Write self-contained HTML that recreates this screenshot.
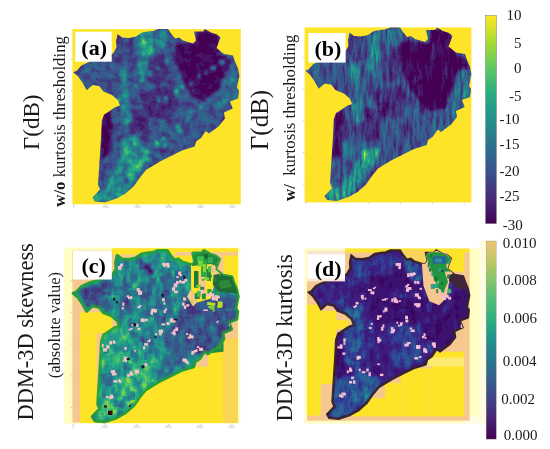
<!DOCTYPE html>
<html><head><meta charset="utf-8"><title>Figure</title>
<style>html,body{margin:0;padding:0;background:#fff}svg{display:block}</style></head>
<body>
<svg width="550" height="449" viewBox="0 0 550 449" font-family="'Liberation Serif', serif" fill="#1a1a1a">
<defs>
<polygon id="shape" points="305.3,70.7 308.7,69.3 313.4,64.0 322.0,60.0 336.0,56.0 345.0,52.0 348.5,46.0 348.0,40.0 349.6,32.4 354.0,36.0 361.0,36.5 368.0,35.0 374.0,31.0 380.0,30.0 385.0,29.5 390.0,27.4 400.0,27.4 403.0,32.0 407.0,37.0 411.0,36.0 415.0,39.0 425.0,42.0 428.0,39.0 426.0,30.0 435.0,30.0 437.0,27.4 443.0,31.0 449.0,33.0 452.5,36.0 448.5,46.5 456.0,52.5 465.0,54.0 467.0,60.0 470.0,67.0 471.4,74.0 469.0,86.0 471.0,89.0 470.0,97.0 462.0,100.0 464.7,107.0 456.0,111.0 457.0,117.0 451.0,124.5 441.0,132.0 437.7,129.4 432.8,136.8 428.0,140.0 426.7,145.0 414.0,149.0 402.0,155.0 392.0,160.0 378.0,168.6 372.0,176.0 366.0,184.5 357.6,192.0 349.0,196.8 336.8,201.0 327.0,200.0 324.5,196.0 332.0,188.0 330.0,183.0 331.4,161.0 333.0,136.8 333.8,119.6 336.0,113.0 338.7,111.4 346.7,106.0 352.0,104.0 350.0,98.7 344.0,93.4 335.4,90.0 331.4,84.7 324.7,83.4 318.7,88.7 314.7,81.4 310.0,74.7"/>
<clipPath id="cs"><use href="#shape"/></clipPath>
<filter id="fa" x="0" y="0" width="100%" height="100%" filterUnits="objectBoundingBox" color-interpolation-filters="sRGB">
<feGaussianBlur in="SourceGraphic" stdDeviation="0.35" result="b"/>
<feTurbulence type="fractalNoise" baseFrequency="0.13 0.13" numOctaves="3" seed="3" result="t"/>
<feColorMatrix in="t" type="matrix" values="1 0 0 0 0  1 0 0 0 0  1 0 0 0 0  0 0 0 0 1" result="n"/>
<feComposite in="b" in2="n" operator="arithmetic" k1="0.960" k2="0.520" k3="0.108" k4="-0.054" result="f"/>
<feComponentTransfer in="f" result="f2"><feFuncR type="discrete" tableValues="0 .06 .12 .18 .25 .31 .37 .43 .5 .56 .62 .68 .75 .81 .87 .93 1"/><feFuncG type="discrete" tableValues="0 .06 .12 .18 .25 .31 .37 .43 .5 .56 .62 .68 .75 .81 .87 .93 1"/><feFuncB type="discrete" tableValues="0 .06 .12 .18 .25 .31 .37 .43 .5 .56 .62 .68 .75 .81 .87 .93 1"/></feComponentTransfer>
<feComponentTransfer><feFuncR type="table" tableValues="0.267 0.278 0.231 0.173 0.129 0.153 0.369 0.667 0.992"/><feFuncG type="table" tableValues="0.004 0.173 0.322 0.443 0.569 0.678 0.788 0.863 0.906"/><feFuncB type="table" tableValues="0.329 0.478 0.545 0.557 0.549 0.506 0.384 0.196 0.145"/></feComponentTransfer>
</filter>
<filter id="fb" x="0" y="0" width="100%" height="100%" filterUnits="objectBoundingBox" color-interpolation-filters="sRGB">
<feGaussianBlur in="SourceGraphic" stdDeviation="0.35" result="b"/>
<feTurbulence type="fractalNoise" baseFrequency="0.30 0.05" numOctaves="3" seed="11" result="t"/>
<feColorMatrix in="t" type="matrix" values="1 0 0 0 0  1 0 0 0 0  1 0 0 0 0  0 0 0 0 1" result="n"/>
<feComposite in="b" in2="n" operator="arithmetic" k1="1.344" k2="0.328" k3="0.151" k4="-0.076" result="f"/>
<feComponentTransfer in="f" result="f2"><feFuncR type="discrete" tableValues="0 .06 .12 .18 .25 .31 .37 .43 .5 .56 .62 .68 .75 .81 .87 .93 1"/><feFuncG type="discrete" tableValues="0 .06 .12 .18 .25 .31 .37 .43 .5 .56 .62 .68 .75 .81 .87 .93 1"/><feFuncB type="discrete" tableValues="0 .06 .12 .18 .25 .31 .37 .43 .5 .56 .62 .68 .75 .81 .87 .93 1"/></feComponentTransfer>
<feComponentTransfer><feFuncR type="table" tableValues="0.267 0.278 0.231 0.173 0.129 0.153 0.369 0.667 0.992"/><feFuncG type="table" tableValues="0.004 0.173 0.322 0.443 0.569 0.678 0.788 0.863 0.906"/><feFuncB type="table" tableValues="0.329 0.478 0.545 0.557 0.549 0.506 0.384 0.196 0.145"/></feComponentTransfer>
</filter>
<filter id="fc" x="0" y="0" width="100%" height="100%" filterUnits="objectBoundingBox" color-interpolation-filters="sRGB">
<feGaussianBlur in="SourceGraphic" stdDeviation="0.35" result="b"/>
<feTurbulence type="fractalNoise" baseFrequency="0.16 0.09" numOctaves="3" seed="5" result="t"/>
<feColorMatrix in="t" type="matrix" values="1 0 0 0 0  1 0 0 0 0  1 0 0 0 0  0 0 0 0 1" result="n"/>
<feComposite in="b" in2="n" operator="arithmetic" k1="0.832" k2="0.584" k3="0.094" k4="-0.047" result="f"/>
<feComponentTransfer in="f" result="f2"><feFuncR type="discrete" tableValues="0 .06 .12 .18 .25 .31 .37 .43 .5 .56 .62 .68 .75 .81 .87 .93 1"/><feFuncG type="discrete" tableValues="0 .06 .12 .18 .25 .31 .37 .43 .5 .56 .62 .68 .75 .81 .87 .93 1"/><feFuncB type="discrete" tableValues="0 .06 .12 .18 .25 .31 .37 .43 .5 .56 .62 .68 .75 .81 .87 .93 1"/></feComponentTransfer>
<feComponentTransfer><feFuncR type="table" tableValues="0.267 0.278 0.231 0.173 0.129 0.153 0.369 0.667 0.992"/><feFuncG type="table" tableValues="0.004 0.173 0.322 0.443 0.569 0.678 0.788 0.863 0.906"/><feFuncB type="table" tableValues="0.329 0.478 0.545 0.557 0.549 0.506 0.384 0.196 0.145"/></feComponentTransfer>
</filter>
<filter id="fd" x="0" y="0" width="100%" height="100%" filterUnits="objectBoundingBox" color-interpolation-filters="sRGB">
<feGaussianBlur in="SourceGraphic" stdDeviation="0.35" result="b"/>
<feTurbulence type="fractalNoise" baseFrequency="0.16 0.09" numOctaves="3" seed="9" result="t"/>
<feColorMatrix in="t" type="matrix" values="1 0 0 0 0  1 0 0 0 0  1 0 0 0 0  0 0 0 0 1" result="n"/>
<feComposite in="b" in2="n" operator="arithmetic" k1="0.896" k2="0.552" k3="0.101" k4="-0.050" result="f"/>
<feComponentTransfer in="f" result="f2"><feFuncR type="discrete" tableValues="0 .06 .12 .18 .25 .31 .37 .43 .5 .56 .62 .68 .75 .81 .87 .93 1"/><feFuncG type="discrete" tableValues="0 .06 .12 .18 .25 .31 .37 .43 .5 .56 .62 .68 .75 .81 .87 .93 1"/><feFuncB type="discrete" tableValues="0 .06 .12 .18 .25 .31 .37 .43 .5 .56 .62 .68 .75 .81 .87 .93 1"/></feComponentTransfer>
<feComponentTransfer><feFuncR type="table" tableValues="0.227 0.243 0.188 0.157 0.129 0.153 0.369 0.667 0.992"/><feFuncG type="table" tableValues="0.031 0.118 0.259 0.408 0.569 0.678 0.788 0.863 0.906"/><feFuncB type="table" tableValues="0.384 0.502 0.588 0.588 0.549 0.506 0.384 0.196 0.145"/></feComponentTransfer>
</filter>
<linearGradient id="g1" x1="0" y1="1" x2="0" y2="0"><stop offset="0.0" stop-color="#440154"/><stop offset="0.125" stop-color="#472c7a"/><stop offset="0.25" stop-color="#3b528b"/><stop offset="0.375" stop-color="#2c718e"/><stop offset="0.5" stop-color="#21918c"/><stop offset="0.625" stop-color="#27ad81"/><stop offset="0.75" stop-color="#5ec962"/><stop offset="0.875" stop-color="#aadc32"/><stop offset="1.0" stop-color="#fde725"/></linearGradient>
<linearGradient id="g2" x1="0" y1="1" x2="0" y2="0"><stop offset="0.0" stop-color="#440154"/><stop offset="0.125" stop-color="#472c7a"/><stop offset="0.25" stop-color="#3b528b"/><stop offset="0.375" stop-color="#2c718e"/><stop offset="0.5" stop-color="#21918c"/><stop offset="0.6" stop-color="#2fae80"/><stop offset="0.7" stop-color="#52bc78"/><stop offset="0.8" stop-color="#84c46c"/><stop offset="0.88" stop-color="#b4c862"/><stop offset="0.95" stop-color="#d9c66c"/><stop offset="1" stop-color="#ecc478"/></linearGradient>
<filter id="bl" x="0" y="0" width="100%" height="100%" color-interpolation-filters="sRGB"><feGaussianBlur stdDeviation="1.8"/></filter>
</defs>
<rect width="550" height="449" fill="#fff"/>
<rect x="72.4" y="29.1" width="168.4" height="175.2" fill="#fde428"/>
<g transform="translate(-232,1.5)"><g clip-path="url(#cs)"><g filter="url(#fa)"><g filter="url(#bl)"><rect x="295" y="15" width="190" height="200" fill="#464646"/>
<polygon points="408,42.5 427.7,39.5 429,31.5 444,30 453,52 463,58.5 460,73 450,89 437,100 424.5,97 415,78 406,58.5" fill="#0d0d0d"/>
<polygon points="430,28 450,32 452,50 430,50" fill="#080808"/>
<polygon points="372,92 398,84 412,100 400,118 380,116" fill="#262626"/>
<polygon points="380,60 396,50 402,70 394,84 382,80" fill="#2b2b2b"/>
<polygon points="333,114 343,108 345,125 342,152 333,160" fill="#0a0a0a"/>
<polygon points="360,108 382,108 380,140 364,142" fill="#262626"/>
<polygon points="368,34 378,32 380,60 376,78 370,70" fill="#787878"/>
<polygon points="352,66 358,66 360,100 354,100" fill="#737373"/>
<polygon points="384,30 398,28 400,44 388,50" fill="#666666"/>
<polygon points="458,70 471,70 470,98 460,100 452,110 448,100" fill="#595959"/>
<polygon points="349,34 366,36 368,58 352,62 347,48" fill="#363636"/>
<polygon points="356,137 370.4,130.8 378.4,150 370.4,172 356,194.5 337,197.5 340,181.5 349.7,165.5" fill="#808080"/>
<polygon points="358,160 372,149 380,156 372,168 360,176" fill="#919191"/>
<polygon points="325,190 345,186 350,198 328,202" fill="#787878"/>
<polygon points="352,104 360,100 364,120 356,124" fill="#757575"/>
<polygon points="392,128 420,120 440,128 420,146 396,156" fill="#424242"/>
<polygon points="305,66 330,60 346,70 340,88 320,84" fill="#454545"/>
<circle cx="454.3" cy="60.6" r="2.3" fill="#9e9e9e"/>
<circle cx="445.4" cy="66.9" r="2.0" fill="#9e9e9e"/>
<circle cx="437.5" cy="71.5" r="1.6" fill="#9e9e9e"/>
<circle cx="431.1" cy="74.5" r="1.7" fill="#9e9e9e"/>
<circle cx="423.2" cy="82.3" r="1.7" fill="#9e9e9e"/>
<circle cx="414.5" cy="86.3" r="2.5" fill="#9e9e9e"/>
<circle cx="408.1" cy="90.1" r="2.6" fill="#9e9e9e"/>
<circle cx="398.1" cy="96.7" r="1.9" fill="#9e9e9e"/>
<circle cx="390.6" cy="98.5" r="1.9" fill="#9e9e9e"/>
<circle cx="441.3" cy="98.7" r="2.2" fill="#9e9e9e"/>
<circle cx="433.1" cy="105.7" r="2.1" fill="#9e9e9e"/>
<circle cx="423.3" cy="110.7" r="1.8" fill="#9e9e9e"/>
<circle cx="418.2" cy="118.5" r="1.9" fill="#9e9e9e"/>
<circle cx="410.3" cy="124.8" r="1.9" fill="#9e9e9e"/>
<circle cx="403.7" cy="132.0" r="1.8" fill="#9e9e9e"/>
<circle cx="395.3" cy="137.6" r="2.5" fill="#9e9e9e"/>
<circle cx="388.4" cy="142.9" r="2.6" fill="#9e9e9e"/>
<circle cx="378.5" cy="149.7" r="2.4" fill="#9e9e9e"/>
<circle cx="418.6" cy="120.0" r="1.6" fill="#9e9e9e"/>
<circle cx="412.7" cy="129.1" r="2.2" fill="#9e9e9e"/>
<circle cx="405.5" cy="135.3" r="2.3" fill="#9e9e9e"/>
<circle cx="396.4" cy="144.3" r="2.1" fill="#9e9e9e"/>
<circle cx="389.4" cy="153.8" r="2.1" fill="#9e9e9e"/>
<circle cx="380.7" cy="158.2" r="2.3" fill="#9e9e9e"/>
<circle cx="372.6" cy="170.0" r="2.4" fill="#9e9e9e"/>
<circle cx="399.1" cy="59.5" r="2.3" fill="#9e9e9e"/>
<circle cx="389.8" cy="66.5" r="1.8" fill="#9e9e9e"/>
<circle cx="381.8" cy="71.6" r="2.4" fill="#9e9e9e"/>
<circle cx="373.5" cy="79.0" r="2.0" fill="#9e9e9e"/>
<circle cx="368.2" cy="85.0" r="2.0" fill="#9e9e9e"/>
<circle cx="358.5" cy="94.9" r="2.4" fill="#9e9e9e"/>
<circle cx="351.5" cy="99.1" r="2.0" fill="#9e9e9e"/>
<polygon points="372,30 384,30 386,52 376,56" fill="#9e9e9e"/></g><rect x="428.3" y="69.0" width="6.0" height="5.7" fill="#000" fill-opacity="0.14"/><rect x="439.3" y="100.9" width="7.6" height="3.0" fill="#fff" fill-opacity="0.06"/><rect x="339.3" y="189.0" width="8.4" height="3.2" fill="#fff" fill-opacity="0.05"/><rect x="457.9" y="90.8" width="4.3" height="5.5" fill="#fff" fill-opacity="0.03"/><rect x="375.6" y="111.1" width="4.4" height="4.4" fill="#fff" fill-opacity="0.04"/><rect x="439.9" y="121.7" width="6.9" height="4.1" fill="#000" fill-opacity="0.14"/><rect x="455.6" y="97.1" width="8.0" height="7.0" fill="#fff" fill-opacity="0.05"/><rect x="387.3" y="127.1" width="3.2" height="4.5" fill="#000" fill-opacity="0.10"/><rect x="330.8" y="118.9" width="7.2" height="7.0" fill="#fff" fill-opacity="0.04"/><rect x="388.5" y="94.1" width="5.9" height="3.2" fill="#fff" fill-opacity="0.06"/><rect x="367.5" y="52.9" width="6.0" height="8.9" fill="#000" fill-opacity="0.11"/><rect x="444.0" y="63.6" width="6.1" height="8.7" fill="#000" fill-opacity="0.10"/><rect x="345.8" y="120.7" width="8.7" height="3.0" fill="#000" fill-opacity="0.14"/><rect x="435.5" y="114.4" width="6.4" height="5.6" fill="#fff" fill-opacity="0.06"/><rect x="396.5" y="59.4" width="6.0" height="5.9" fill="#fff" fill-opacity="0.04"/><rect x="391.0" y="132.4" width="6.7" height="5.7" fill="#fff" fill-opacity="0.03"/><rect x="331.0" y="124.6" width="8.2" height="7.8" fill="#000" fill-opacity="0.14"/><rect x="344.3" y="171.0" width="7.0" height="3.5" fill="#fff" fill-opacity="0.02"/><rect x="428.1" y="67.5" width="3.7" height="6.7" fill="#fff" fill-opacity="0.02"/><rect x="329.9" y="72.1" width="7.3" height="5.7" fill="#fff" fill-opacity="0.04"/><rect x="373.2" y="56.1" width="3.7" height="8.4" fill="#000" fill-opacity="0.07"/><rect x="328.7" y="146.1" width="7.1" height="6.3" fill="#fff" fill-opacity="0.07"/><rect x="434.7" y="113.4" width="4.3" height="6.9" fill="#fff" fill-opacity="0.05"/><rect x="357.0" y="134.1" width="3.4" height="4.8" fill="#000" fill-opacity="0.15"/><rect x="353.8" y="171.3" width="4.9" height="8.6" fill="#000" fill-opacity="0.10"/><rect x="446.2" y="30.1" width="7.9" height="8.8" fill="#000" fill-opacity="0.07"/><rect x="418.8" y="113.0" width="5.3" height="5.1" fill="#fff" fill-opacity="0.05"/><rect x="375.2" y="57.9" width="3.6" height="7.0" fill="#fff" fill-opacity="0.04"/><rect x="355.2" y="176.4" width="8.4" height="3.1" fill="#fff" fill-opacity="0.04"/><rect x="358.1" y="60.6" width="7.0" height="8.0" fill="#000" fill-opacity="0.09"/><rect x="342.7" y="150.8" width="3.5" height="4.0" fill="#000" fill-opacity="0.07"/><rect x="426.5" y="128.6" width="8.0" height="5.2" fill="#fff" fill-opacity="0.03"/><rect x="358.1" y="131.2" width="7.7" height="5.3" fill="#000" fill-opacity="0.07"/><rect x="315.2" y="70.7" width="8.3" height="6.4" fill="#000" fill-opacity="0.10"/><rect x="347.5" y="161.8" width="8.0" height="3.1" fill="#000" fill-opacity="0.06"/><rect x="308.1" y="66.5" width="8.9" height="5.5" fill="#fff" fill-opacity="0.03"/><rect x="343.8" y="151.7" width="3.6" height="8.5" fill="#fff" fill-opacity="0.07"/><rect x="452.9" y="75.6" width="4.5" height="5.9" fill="#fff" fill-opacity="0.05"/><rect x="463.9" y="76.0" width="6.6" height="5.7" fill="#fff" fill-opacity="0.02"/><rect x="336.9" y="131.1" width="8.9" height="6.3" fill="#000" fill-opacity="0.12"/><rect x="346.1" y="118.9" width="4.8" height="4.5" fill="#fff" fill-opacity="0.03"/><rect x="408.6" y="136.0" width="8.6" height="5.3" fill="#fff" fill-opacity="0.04"/><rect x="353.8" y="171.3" width="8.4" height="4.8" fill="#fff" fill-opacity="0.05"/><rect x="398.7" y="128.9" width="4.5" height="3.1" fill="#fff" fill-opacity="0.02"/><rect x="394.7" y="36.8" width="3.5" height="6.8" fill="#fff" fill-opacity="0.06"/><rect x="432.0" y="39.2" width="8.7" height="4.0" fill="#000" fill-opacity="0.16"/><rect x="438.9" y="80.0" width="3.6" height="6.1" fill="#000" fill-opacity="0.08"/><rect x="448.3" y="50.8" width="8.5" height="3.2" fill="#fff" fill-opacity="0.07"/><rect x="416.3" y="56.7" width="5.6" height="3.9" fill="#000" fill-opacity="0.12"/><rect x="392.0" y="118.3" width="8.1" height="5.7" fill="#fff" fill-opacity="0.04"/><rect x="408.8" y="98.0" width="6.4" height="3.4" fill="#fff" fill-opacity="0.03"/><rect x="322.5" y="69.9" width="8.0" height="5.4" fill="#fff" fill-opacity="0.05"/><rect x="389.3" y="111.3" width="6.9" height="5.6" fill="#000" fill-opacity="0.13"/><rect x="342.2" y="111.0" width="5.9" height="4.4" fill="#fff" fill-opacity="0.05"/><rect x="349.5" y="137.5" width="3.3" height="3.4" fill="#000" fill-opacity="0.15"/><rect x="328.0" y="157.3" width="8.3" height="4.9" fill="#000" fill-opacity="0.14"/><rect x="363.2" y="145.3" width="7.4" height="6.6" fill="#000" fill-opacity="0.15"/><rect x="332.8" y="67.9" width="4.3" height="6.4" fill="#000" fill-opacity="0.06"/><rect x="361.1" y="112.9" width="4.0" height="7.4" fill="#fff" fill-opacity="0.07"/><rect x="345.5" y="183.1" width="8.8" height="3.8" fill="#000" fill-opacity="0.14"/><rect x="411.4" y="144.2" width="5.7" height="8.5" fill="#000" fill-opacity="0.09"/><rect x="435.7" y="100.0" width="4.0" height="5.0" fill="#fff" fill-opacity="0.07"/><rect x="402.7" y="95.8" width="3.7" height="4.8" fill="#fff" fill-opacity="0.06"/><rect x="374.6" y="28.3" width="6.8" height="6.6" fill="#000" fill-opacity="0.07"/><rect x="350.4" y="118.0" width="4.6" height="6.5" fill="#fff" fill-opacity="0.05"/><rect x="429.5" y="123.8" width="5.3" height="4.7" fill="#fff" fill-opacity="0.06"/><rect x="396.9" y="79.0" width="6.0" height="5.1" fill="#000" fill-opacity="0.05"/><rect x="376.1" y="102.6" width="4.8" height="5.4" fill="#000" fill-opacity="0.13"/><rect x="384.1" y="137.3" width="5.3" height="4.2" fill="#fff" fill-opacity="0.03"/><rect x="437.6" y="113.0" width="8.9" height="5.8" fill="#000" fill-opacity="0.09"/><rect x="352.7" y="54.2" width="6.7" height="6.2" fill="#fff" fill-opacity="0.02"/><rect x="367.1" y="97.2" width="5.4" height="8.2" fill="#000" fill-opacity="0.13"/><rect x="383.4" y="152.8" width="6.8" height="6.9" fill="#000" fill-opacity="0.09"/><rect x="404.9" y="133.2" width="8.6" height="7.7" fill="#000" fill-opacity="0.13"/><rect x="359.7" y="69.4" width="7.2" height="8.2" fill="#000" fill-opacity="0.07"/><rect x="439.7" y="109.7" width="5.8" height="3.3" fill="#000" fill-opacity="0.13"/><rect x="371.8" y="87.5" width="6.9" height="3.1" fill="#000" fill-opacity="0.15"/><rect x="415.7" y="93.8" width="7.1" height="6.6" fill="#fff" fill-opacity="0.03"/><rect x="449.6" y="70.3" width="3.4" height="8.0" fill="#000" fill-opacity="0.09"/><rect x="387.9" y="151.3" width="4.0" height="6.9" fill="#000" fill-opacity="0.14"/><rect x="348.0" y="129.7" width="4.4" height="6.4" fill="#fff" fill-opacity="0.06"/><rect x="446.0" y="80.3" width="4.3" height="8.8" fill="#000" fill-opacity="0.14"/><rect x="405.3" y="78.7" width="5.6" height="7.6" fill="#000" fill-opacity="0.07"/><rect x="404.2" y="53.7" width="8.8" height="5.7" fill="#000" fill-opacity="0.13"/><rect x="402.3" y="71.1" width="6.2" height="3.8" fill="#fff" fill-opacity="0.06"/><rect x="363.0" y="153.6" width="4.4" height="7.3" fill="#000" fill-opacity="0.08"/><rect x="384.7" y="43.5" width="4.1" height="3.3" fill="#000" fill-opacity="0.15"/><rect x="360.3" y="168.5" width="3.7" height="7.2" fill="#fff" fill-opacity="0.04"/><rect x="385.2" y="90.8" width="4.0" height="4.4" fill="#000" fill-opacity="0.10"/><rect x="397.5" y="62.0" width="7.3" height="5.0" fill="#000" fill-opacity="0.15"/><rect x="355.2" y="89.6" width="6.5" height="8.5" fill="#fff" fill-opacity="0.06"/><rect x="426.2" y="52.6" width="8.5" height="3.1" fill="#fff" fill-opacity="0.05"/><rect x="441.5" y="33.5" width="4.6" height="3.7" fill="#fff" fill-opacity="0.02"/><rect x="411.3" y="90.6" width="6.8" height="8.8" fill="#000" fill-opacity="0.08"/><rect x="399.5" y="85.0" width="6.6" height="6.4" fill="#000" fill-opacity="0.06"/><rect x="361.8" y="94.8" width="4.2" height="8.3" fill="#fff" fill-opacity="0.05"/><rect x="345.3" y="191.7" width="3.9" height="8.5" fill="#000" fill-opacity="0.14"/><rect x="436.7" y="104.2" width="5.2" height="8.9" fill="#fff" fill-opacity="0.05"/><rect x="376.0" y="46.4" width="5.4" height="7.2" fill="#000" fill-opacity="0.05"/><rect x="388.1" y="41.8" width="7.8" height="3.5" fill="#fff" fill-opacity="0.04"/><rect x="424.3" y="78.0" width="3.8" height="7.8" fill="#000" fill-opacity="0.14"/><rect x="353.6" y="97.9" width="4.5" height="6.3" fill="#fff" fill-opacity="0.04"/><rect x="398.3" y="43.2" width="6.9" height="5.7" fill="#000" fill-opacity="0.13"/><rect x="440.4" y="75.5" width="3.9" height="5.2" fill="#000" fill-opacity="0.06"/><rect x="361.0" y="122.9" width="3.3" height="7.9" fill="#000" fill-opacity="0.08"/><rect x="352.4" y="84.9" width="5.0" height="7.5" fill="#000" fill-opacity="0.11"/><rect x="357.7" y="79.9" width="3.4" height="8.9" fill="#fff" fill-opacity="0.07"/><rect x="424.1" y="86.8" width="8.7" height="6.9" fill="#fff" fill-opacity="0.04"/><rect x="414.5" y="122.7" width="8.4" height="4.1" fill="#fff" fill-opacity="0.06"/><rect x="393.7" y="71.4" width="3.6" height="4.6" fill="#000" fill-opacity="0.11"/><rect x="332.9" y="173.6" width="3.1" height="5.2" fill="#000" fill-opacity="0.13"/><rect x="349.2" y="177.2" width="6.6" height="8.2" fill="#000" fill-opacity="0.10"/><rect x="412.5" y="117.8" width="8.7" height="7.8" fill="#000" fill-opacity="0.14"/><rect x="467.6" y="68.4" width="4.2" height="7.5" fill="#000" fill-opacity="0.11"/><rect x="381.7" y="93.6" width="8.3" height="7.8" fill="#000" fill-opacity="0.05"/><rect x="443.5" y="104.5" width="4.1" height="4.8" fill="#000" fill-opacity="0.05"/><rect x="321.5" y="76.3" width="8.3" height="7.5" fill="#000" fill-opacity="0.11"/><rect x="396.7" y="119.7" width="6.2" height="6.3" fill="#000" fill-opacity="0.15"/><rect x="370.5" y="133.9" width="4.8" height="4.8" fill="#000" fill-opacity="0.11"/><rect x="396.1" y="87.0" width="5.4" height="8.6" fill="#000" fill-opacity="0.12"/><rect x="441.9" y="90.1" width="5.8" height="7.8" fill="#fff" fill-opacity="0.06"/><rect x="382.1" y="84.0" width="5.7" height="3.7" fill="#fff" fill-opacity="0.04"/><rect x="345.4" y="173.2" width="6.5" height="4.7" fill="#000" fill-opacity="0.08"/><rect x="386.7" y="152.4" width="7.1" height="5.6" fill="#000" fill-opacity="0.10"/><rect x="418.9" y="108.9" width="8.8" height="7.3" fill="#fff" fill-opacity="0.03"/><rect x="462.9" y="65.2" width="3.2" height="4.5" fill="#fff" fill-opacity="0.07"/><rect x="367.5" y="150.7" width="8.0" height="3.5" fill="#000" fill-opacity="0.16"/><rect x="393.6" y="115.6" width="5.1" height="8.7" fill="#000" fill-opacity="0.06"/><rect x="393.1" y="98.3" width="7.0" height="3.7" fill="#fff" fill-opacity="0.03"/><rect x="380.6" y="160.6" width="8.1" height="7.7" fill="#000" fill-opacity="0.06"/><rect x="367.5" y="140.0" width="4.8" height="6.0" fill="#000" fill-opacity="0.06"/><rect x="443.4" y="42.0" width="5.3" height="8.4" fill="#fff" fill-opacity="0.05"/><rect x="465.7" y="73.5" width="6.0" height="8.4" fill="#000" fill-opacity="0.07"/><rect x="427.6" y="84.5" width="5.9" height="3.1" fill="#000" fill-opacity="0.12"/><rect x="347.1" y="117.2" width="5.6" height="7.6" fill="#000" fill-opacity="0.08"/><rect x="348.3" y="147.6" width="5.5" height="3.8" fill="#fff" fill-opacity="0.05"/><rect x="391.4" y="130.0" width="3.9" height="5.5" fill="#fff" fill-opacity="0.05"/><rect x="347.2" y="62.0" width="5.2" height="5.8" fill="#fff" fill-opacity="0.05"/><rect x="332.1" y="176.2" width="7.2" height="6.2" fill="#fff" fill-opacity="0.04"/><rect x="415.2" y="134.8" width="7.9" height="8.3" fill="#fff" fill-opacity="0.04"/><rect x="358.2" y="47.7" width="3.8" height="4.5" fill="#fff" fill-opacity="0.05"/><rect x="417.7" y="122.7" width="7.1" height="4.4" fill="#fff" fill-opacity="0.05"/><rect x="449.5" y="99.1" width="3.0" height="3.1" fill="#fff" fill-opacity="0.05"/><rect x="316.3" y="62.2" width="7.1" height="8.9" fill="#fff" fill-opacity="0.05"/><rect x="388.5" y="30.1" width="5.0" height="3.8" fill="#fff" fill-opacity="0.06"/><rect x="320.6" y="80.9" width="4.6" height="3.3" fill="#fff" fill-opacity="0.03"/><rect x="407.2" y="67.3" width="7.1" height="4.6" fill="#000" fill-opacity="0.09"/><rect x="457.7" y="85.2" width="7.8" height="6.8" fill="#000" fill-opacity="0.12"/><rect x="445.2" y="94.3" width="7.1" height="6.7" fill="#000" fill-opacity="0.11"/><rect x="389.7" y="92.3" width="8.4" height="6.8" fill="#000" fill-opacity="0.06"/><rect x="387.3" y="55.3" width="4.3" height="5.6" fill="#000" fill-opacity="0.08"/><rect x="347.5" y="116.5" width="5.8" height="5.4" fill="#fff" fill-opacity="0.04"/><rect x="410.2" y="117.6" width="6.3" height="8.1" fill="#000" fill-opacity="0.13"/><rect x="413.7" y="52.9" width="8.5" height="3.9" fill="#000" fill-opacity="0.07"/><rect x="359.0" y="176.8" width="4.0" height="8.1" fill="#fff" fill-opacity="0.04"/><rect x="346.3" y="139.4" width="7.8" height="6.6" fill="#fff" fill-opacity="0.07"/><rect x="364.1" y="121.8" width="8.3" height="5.8" fill="#000" fill-opacity="0.12"/><rect x="371.3" y="129.3" width="3.3" height="5.8" fill="#fff" fill-opacity="0.06"/><rect x="387.0" y="84.8" width="4.6" height="8.9" fill="#000" fill-opacity="0.12"/><rect x="344.0" y="163.8" width="4.4" height="6.4" fill="#fff" fill-opacity="0.03"/><rect x="354.9" y="175.8" width="5.1" height="6.9" fill="#000" fill-opacity="0.13"/><rect x="363.8" y="75.7" width="7.9" height="5.6" fill="#000" fill-opacity="0.12"/><rect x="387.6" y="33.5" width="7.0" height="8.3" fill="#fff" fill-opacity="0.05"/><rect x="382.3" y="82.2" width="7.3" height="8.9" fill="#fff" fill-opacity="0.06"/><rect x="366.8" y="167.8" width="4.0" height="7.3" fill="#fff" fill-opacity="0.04"/><rect x="431.7" y="104.4" width="5.8" height="6.0" fill="#000" fill-opacity="0.13"/><rect x="390.6" y="122.3" width="8.6" height="8.0" fill="#fff" fill-opacity="0.04"/><rect x="434.9" y="73.2" width="3.9" height="8.8" fill="#000" fill-opacity="0.15"/><rect x="358.3" y="64.8" width="7.7" height="8.6" fill="#000" fill-opacity="0.07"/><rect x="399.2" y="112.4" width="5.6" height="7.8" fill="#000" fill-opacity="0.13"/></g></g></g>
<rect x="75.2" y="31.7" width="36.5" height="30" fill="#fff"/>
<text x="94.2" y="54.7" text-anchor="middle" font-size="22" font-weight="bold" fill="#000">(a)</text>
<rect x="304.6" y="27.4" width="166.8" height="175" fill="#fde428"/>
<g transform="translate(0,0)"><g clip-path="url(#cs)"><g filter="url(#fb)"><g filter="url(#bl)"><rect x="295" y="15" width="190" height="200" fill="#464646"/>
<polygon points="398,42 412,40 428,44 450,36 456,54 468,60 468,80 455,92 446,108 430,112 418,100 408,86 400,66" fill="#080808"/>
<polygon points="430,28 450,32 452,50 430,50" fill="#080808"/>
<polygon points="372,92 398,84 412,100 400,118 380,116" fill="#262626"/>
<polygon points="380,60 396,50 402,70 394,84 382,80" fill="#2b2b2b"/>
<polygon points="333,114 343,108 345,125 342,152 333,160" fill="#0a0a0a"/>
<polygon points="360,108 382,108 380,140 364,142" fill="#262626"/>
<polygon points="368,34 378,32 380,60 376,78 370,70" fill="#787878"/>
<polygon points="352,66 358,66 360,100 354,100" fill="#737373"/>
<polygon points="384,30 398,28 400,44 388,50" fill="#666666"/>
<polygon points="458,70 471,70 470,98 460,100 452,110 448,100" fill="#595959"/>
<polygon points="349,34 366,36 368,58 352,62 347,48" fill="#363636"/>
<polygon points="357.6,161.3 371,146.6 381,149 373.5,166 363.7,181 354,193 336.8,200.5 327,198 336.8,190.7 349,173.5" fill="#808080"/>
<polygon points="340,126 356,124 358,160 348,174 338,180" fill="#454545"/>
<polygon points="361,151 373,148 375,163 363,167" fill="#9c9c9c"/>
<polygon points="325,190 345,186 350,198 328,202" fill="#787878"/>
<polygon points="352,104 360,100 364,120 356,124" fill="#757575"/>
<polygon points="392,128 420,120 440,128 420,146 396,156" fill="#424242"/>
<polygon points="305,66 330,60 346,70 340,88 320,84" fill="#454545"/></g><rect x="413.9" y="73.6" width="3.8" height="14.9" fill="#000" fill-opacity="0.07"/><rect x="374.5" y="85.7" width="4.2" height="19.9" fill="#000" fill-opacity="0.11"/><rect x="377.9" y="70.5" width="2.1" height="7.4" fill="#fff" fill-opacity="0.04"/><rect x="390.9" y="120.8" width="2.7" height="7.3" fill="#fff" fill-opacity="0.03"/><rect x="414.3" y="50.6" width="4.7" height="17.4" fill="#000" fill-opacity="0.15"/><rect x="461.6" y="47.6" width="4.3" height="16.3" fill="#fff" fill-opacity="0.05"/><rect x="361.7" y="173.4" width="4.7" height="13.0" fill="#000" fill-opacity="0.15"/><rect x="423.4" y="106.1" width="2.7" height="11.2" fill="#000" fill-opacity="0.07"/><rect x="452.5" y="68.6" width="4.7" height="11.0" fill="#000" fill-opacity="0.13"/><rect x="386.7" y="109.7" width="4.0" height="14.6" fill="#fff" fill-opacity="0.03"/><rect x="406.0" y="32.7" width="4.5" height="16.4" fill="#000" fill-opacity="0.07"/><rect x="426.2" y="32.8" width="4.0" height="10.6" fill="#fff" fill-opacity="0.06"/><rect x="444.7" y="60.9" width="2.6" height="18.4" fill="#fff" fill-opacity="0.06"/><rect x="333.1" y="134.0" width="2.2" height="19.4" fill="#fff" fill-opacity="0.06"/><rect x="307.2" y="67.5" width="4.4" height="9.0" fill="#fff" fill-opacity="0.05"/><rect x="366.7" y="30.9" width="5.0" height="9.0" fill="#fff" fill-opacity="0.04"/><rect x="381.5" y="61.2" width="4.0" height="11.1" fill="#fff" fill-opacity="0.04"/><rect x="447.6" y="43.9" width="3.8" height="12.1" fill="#000" fill-opacity="0.07"/><rect x="461.5" y="66.3" width="3.8" height="12.5" fill="#fff" fill-opacity="0.05"/><rect x="345.2" y="121.0" width="3.9" height="17.4" fill="#000" fill-opacity="0.08"/><rect x="374.4" y="114.8" width="2.0" height="7.5" fill="#fff" fill-opacity="0.03"/><rect x="423.5" y="64.7" width="2.3" height="9.4" fill="#fff" fill-opacity="0.03"/><rect x="389.9" y="100.2" width="2.9" height="15.3" fill="#fff" fill-opacity="0.07"/><rect x="375.3" y="112.1" width="3.7" height="7.7" fill="#fff" fill-opacity="0.05"/><rect x="435.9" y="81.5" width="3.6" height="19.0" fill="#000" fill-opacity="0.08"/><rect x="466.3" y="84.1" width="2.1" height="15.9" fill="#fff" fill-opacity="0.04"/><rect x="372.0" y="104.2" width="2.6" height="14.7" fill="#fff" fill-opacity="0.03"/><rect x="336.0" y="119.8" width="3.2" height="13.0" fill="#000" fill-opacity="0.09"/><rect x="423.1" y="107.2" width="3.1" height="12.9" fill="#000" fill-opacity="0.08"/><rect x="389.9" y="101.4" width="4.9" height="17.5" fill="#000" fill-opacity="0.14"/><rect x="352.9" y="62.7" width="3.5" height="10.4" fill="#fff" fill-opacity="0.05"/><rect x="438.6" y="34.5" width="3.1" height="20.0" fill="#fff" fill-opacity="0.04"/><rect x="410.8" y="45.1" width="2.9" height="10.0" fill="#000" fill-opacity="0.12"/><rect x="376.8" y="111.1" width="2.3" height="14.0" fill="#000" fill-opacity="0.13"/><rect x="421.0" y="65.8" width="4.7" height="13.0" fill="#000" fill-opacity="0.09"/><rect x="398.4" y="49.2" width="3.3" height="7.4" fill="#000" fill-opacity="0.15"/><rect x="333.9" y="109.6" width="3.4" height="12.3" fill="#000" fill-opacity="0.15"/><rect x="419.2" y="103.6" width="4.9" height="11.3" fill="#000" fill-opacity="0.12"/><rect x="341.3" y="127.0" width="3.2" height="15.7" fill="#000" fill-opacity="0.12"/><rect x="423.3" y="123.1" width="4.7" height="18.5" fill="#fff" fill-opacity="0.06"/><rect x="429.7" y="55.0" width="4.2" height="14.6" fill="#fff" fill-opacity="0.06"/><rect x="375.4" y="65.1" width="3.7" height="13.1" fill="#fff" fill-opacity="0.07"/><rect x="384.0" y="138.8" width="3.0" height="10.5" fill="#000" fill-opacity="0.05"/><rect x="332.3" y="150.9" width="4.4" height="12.3" fill="#000" fill-opacity="0.14"/><rect x="446.5" y="45.2" width="2.5" height="12.0" fill="#fff" fill-opacity="0.03"/><rect x="462.8" y="85.0" width="3.6" height="12.0" fill="#fff" fill-opacity="0.06"/><rect x="354.9" y="132.6" width="3.5" height="14.0" fill="#000" fill-opacity="0.06"/><rect x="439.2" y="71.6" width="3.9" height="17.3" fill="#000" fill-opacity="0.09"/><rect x="441.9" y="37.9" width="3.9" height="12.1" fill="#000" fill-opacity="0.14"/><rect x="354.8" y="63.1" width="3.4" height="10.0" fill="#fff" fill-opacity="0.07"/><rect x="366.7" y="86.7" width="3.0" height="8.0" fill="#fff" fill-opacity="0.03"/><rect x="376.1" y="68.7" width="4.7" height="19.0" fill="#fff" fill-opacity="0.05"/><rect x="457.3" y="79.1" width="2.3" height="10.1" fill="#fff" fill-opacity="0.05"/><rect x="365.1" y="84.2" width="4.4" height="10.0" fill="#000" fill-opacity="0.12"/><rect x="370.1" y="160.4" width="3.0" height="18.4" fill="#000" fill-opacity="0.11"/><rect x="351.8" y="129.2" width="4.0" height="11.8" fill="#fff" fill-opacity="0.03"/><rect x="461.3" y="79.6" width="3.4" height="18.6" fill="#fff" fill-opacity="0.07"/><rect x="361.2" y="80.5" width="4.8" height="18.5" fill="#000" fill-opacity="0.10"/><rect x="392.8" y="62.7" width="4.5" height="12.1" fill="#fff" fill-opacity="0.05"/><rect x="328.3" y="78.3" width="4.8" height="8.2" fill="#fff" fill-opacity="0.03"/><rect x="345.7" y="81.9" width="2.7" height="10.1" fill="#000" fill-opacity="0.09"/><rect x="366.0" y="155.6" width="2.2" height="8.9" fill="#000" fill-opacity="0.10"/><rect x="431.9" y="41.8" width="3.6" height="18.0" fill="#fff" fill-opacity="0.06"/><rect x="403.6" y="89.8" width="5.0" height="12.1" fill="#fff" fill-opacity="0.05"/><rect x="356.1" y="164.8" width="3.8" height="14.6" fill="#000" fill-opacity="0.16"/><rect x="378.8" y="95.0" width="3.6" height="7.6" fill="#fff" fill-opacity="0.07"/><rect x="316.5" y="77.0" width="4.4" height="7.1" fill="#fff" fill-opacity="0.04"/><rect x="413.4" y="36.1" width="4.9" height="15.4" fill="#fff" fill-opacity="0.06"/><rect x="343.8" y="106.4" width="3.7" height="8.8" fill="#000" fill-opacity="0.06"/><rect x="336.5" y="179.1" width="4.5" height="13.8" fill="#000" fill-opacity="0.15"/><rect x="322.7" y="59.5" width="2.2" height="9.8" fill="#fff" fill-opacity="0.05"/><rect x="421.3" y="110.7" width="4.8" height="9.1" fill="#fff" fill-opacity="0.06"/><rect x="407.3" y="58.7" width="3.1" height="10.9" fill="#fff" fill-opacity="0.04"/><rect x="369.1" y="158.1" width="4.4" height="14.3" fill="#fff" fill-opacity="0.03"/><rect x="341.5" y="141.2" width="4.1" height="15.6" fill="#fff" fill-opacity="0.05"/><rect x="337.3" y="53.7" width="3.7" height="15.4" fill="#000" fill-opacity="0.13"/><rect x="420.2" y="101.2" width="2.1" height="17.0" fill="#000" fill-opacity="0.14"/><rect x="402.8" y="30.4" width="2.6" height="8.4" fill="#000" fill-opacity="0.11"/><rect x="334.1" y="183.1" width="4.9" height="18.7" fill="#fff" fill-opacity="0.03"/><rect x="338.2" y="164.4" width="4.1" height="10.6" fill="#000" fill-opacity="0.11"/><rect x="371.6" y="93.0" width="4.2" height="12.9" fill="#000" fill-opacity="0.06"/><rect x="418.8" y="69.9" width="4.7" height="9.8" fill="#fff" fill-opacity="0.05"/><rect x="368.0" y="113.6" width="4.8" height="9.6" fill="#000" fill-opacity="0.13"/><rect x="433.3" y="99.3" width="3.4" height="11.5" fill="#fff" fill-opacity="0.03"/><rect x="398.8" y="73.8" width="2.5" height="14.9" fill="#000" fill-opacity="0.07"/><rect x="404.6" y="133.4" width="4.7" height="15.9" fill="#fff" fill-opacity="0.03"/><rect x="442.2" y="70.3" width="2.0" height="18.3" fill="#fff" fill-opacity="0.04"/><rect x="356.2" y="66.3" width="4.2" height="11.5" fill="#fff" fill-opacity="0.04"/><rect x="440.8" y="26.8" width="3.7" height="8.7" fill="#fff" fill-opacity="0.05"/><rect x="365.7" y="29.7" width="3.8" height="18.9" fill="#000" fill-opacity="0.10"/><rect x="328.4" y="70.0" width="4.9" height="19.0" fill="#fff" fill-opacity="0.06"/><rect x="419.8" y="113.2" width="2.7" height="9.8" fill="#fff" fill-opacity="0.05"/><rect x="367.7" y="97.0" width="4.9" height="12.1" fill="#fff" fill-opacity="0.04"/><rect x="339.5" y="57.7" width="3.6" height="17.6" fill="#fff" fill-opacity="0.07"/><rect x="420.2" y="92.9" width="3.5" height="8.3" fill="#000" fill-opacity="0.11"/><rect x="432.3" y="119.6" width="4.1" height="16.5" fill="#fff" fill-opacity="0.02"/><rect x="383.3" y="44.7" width="2.4" height="11.2" fill="#000" fill-opacity="0.12"/><rect x="376.3" y="44.3" width="2.9" height="15.6" fill="#fff" fill-opacity="0.07"/><rect x="361.9" y="79.1" width="4.8" height="14.9" fill="#fff" fill-opacity="0.06"/><rect x="450.5" y="111.9" width="4.9" height="7.3" fill="#fff" fill-opacity="0.06"/><rect x="445.6" y="33.7" width="3.6" height="14.9" fill="#fff" fill-opacity="0.04"/><rect x="434.6" y="48.6" width="2.1" height="14.7" fill="#000" fill-opacity="0.14"/><rect x="414.0" y="74.9" width="4.7" height="7.5" fill="#fff" fill-opacity="0.06"/><rect x="450.4" y="93.1" width="4.7" height="8.4" fill="#000" fill-opacity="0.06"/><rect x="343.3" y="54.5" width="2.0" height="12.3" fill="#000" fill-opacity="0.08"/><rect x="389.3" y="109.3" width="3.2" height="18.9" fill="#fff" fill-opacity="0.04"/><rect x="378.9" y="84.9" width="4.9" height="14.4" fill="#000" fill-opacity="0.10"/><rect x="397.8" y="64.6" width="3.3" height="13.0" fill="#fff" fill-opacity="0.03"/><rect x="339.5" y="148.3" width="4.9" height="17.7" fill="#000" fill-opacity="0.05"/><rect x="353.1" y="165.4" width="4.9" height="14.1" fill="#000" fill-opacity="0.13"/><rect x="345.0" y="141.5" width="3.1" height="18.0" fill="#fff" fill-opacity="0.05"/><rect x="395.5" y="110.3" width="3.4" height="19.4" fill="#000" fill-opacity="0.10"/><rect x="402.4" y="125.6" width="3.4" height="19.5" fill="#000" fill-opacity="0.09"/><rect x="418.0" y="84.6" width="4.4" height="11.5" fill="#fff" fill-opacity="0.05"/><rect x="410.7" y="88.3" width="3.5" height="19.8" fill="#000" fill-opacity="0.09"/><rect x="370.2" y="129.9" width="4.4" height="18.7" fill="#000" fill-opacity="0.12"/><rect x="370.1" y="30.7" width="3.4" height="8.5" fill="#000" fill-opacity="0.09"/><rect x="333.8" y="167.3" width="3.0" height="8.0" fill="#000" fill-opacity="0.09"/><rect x="455.6" y="100.9" width="2.3" height="7.2" fill="#fff" fill-opacity="0.04"/><rect x="357.7" y="100.5" width="4.7" height="19.6" fill="#000" fill-opacity="0.12"/><rect x="398.4" y="61.8" width="3.8" height="9.2" fill="#fff" fill-opacity="0.06"/><rect x="397.5" y="147.6" width="3.4" height="10.6" fill="#000" fill-opacity="0.11"/><rect x="343.2" y="168.7" width="4.9" height="9.4" fill="#fff" fill-opacity="0.06"/><rect x="422.5" y="61.6" width="3.8" height="10.1" fill="#000" fill-opacity="0.11"/><rect x="388.2" y="49.2" width="3.2" height="13.1" fill="#fff" fill-opacity="0.03"/><rect x="336.1" y="139.5" width="4.8" height="18.0" fill="#000" fill-opacity="0.14"/><rect x="325.9" y="60.6" width="4.1" height="7.0" fill="#fff" fill-opacity="0.06"/><rect x="336.7" y="50.9" width="3.2" height="17.9" fill="#fff" fill-opacity="0.06"/><rect x="354.3" y="121.9" width="3.4" height="8.6" fill="#000" fill-opacity="0.07"/><rect x="383.1" y="33.9" width="4.4" height="13.8" fill="#000" fill-opacity="0.08"/><rect x="381.0" y="56.4" width="2.1" height="11.4" fill="#000" fill-opacity="0.07"/><rect x="341.5" y="125.7" width="3.9" height="17.5" fill="#000" fill-opacity="0.14"/><rect x="330.4" y="182.3" width="2.1" height="8.5" fill="#fff" fill-opacity="0.06"/><rect x="404.3" y="80.2" width="4.9" height="16.5" fill="#fff" fill-opacity="0.05"/><rect x="383.7" y="71.2" width="2.2" height="15.1" fill="#000" fill-opacity="0.06"/><rect x="362.5" y="168.0" width="2.5" height="10.9" fill="#000" fill-opacity="0.15"/><rect x="391.5" y="36.1" width="4.8" height="14.4" fill="#000" fill-opacity="0.08"/><rect x="359.6" y="37.2" width="2.6" height="12.7" fill="#fff" fill-opacity="0.05"/><rect x="440.3" y="77.7" width="4.8" height="15.5" fill="#fff" fill-opacity="0.03"/><rect x="365.8" y="95.5" width="4.3" height="9.9" fill="#fff" fill-opacity="0.05"/><rect x="333.1" y="133.7" width="3.9" height="16.2" fill="#000" fill-opacity="0.08"/><rect x="386.7" y="62.8" width="3.4" height="12.3" fill="#fff" fill-opacity="0.03"/><rect x="360.6" y="87.4" width="3.7" height="16.7" fill="#fff" fill-opacity="0.05"/><rect x="360.2" y="57.2" width="2.4" height="19.5" fill="#000" fill-opacity="0.14"/><rect x="321.5" y="76.1" width="3.3" height="7.1" fill="#fff" fill-opacity="0.05"/><rect x="441.8" y="52.0" width="2.0" height="17.3" fill="#fff" fill-opacity="0.04"/><rect x="330.0" y="69.0" width="2.8" height="10.3" fill="#fff" fill-opacity="0.05"/><rect x="437.7" y="74.5" width="3.2" height="13.3" fill="#000" fill-opacity="0.13"/><rect x="436.2" y="71.7" width="3.7" height="13.9" fill="#000" fill-opacity="0.09"/><rect x="379.2" y="36.7" width="4.5" height="13.5" fill="#fff" fill-opacity="0.05"/><rect x="329.6" y="57.3" width="4.4" height="16.5" fill="#000" fill-opacity="0.10"/><rect x="437.7" y="44.0" width="3.5" height="16.6" fill="#000" fill-opacity="0.07"/><rect x="433.2" y="26.0" width="3.7" height="18.7" fill="#000" fill-opacity="0.08"/><rect x="439.8" y="109.0" width="2.8" height="10.6" fill="#fff" fill-opacity="0.02"/><rect x="405.3" y="93.0" width="4.7" height="7.7" fill="#000" fill-opacity="0.07"/><rect x="356.7" y="70.6" width="4.9" height="15.4" fill="#fff" fill-opacity="0.03"/><rect x="373.0" y="59.0" width="3.1" height="15.9" fill="#fff" fill-opacity="0.05"/><rect x="353.4" y="132.4" width="2.5" height="17.3" fill="#fff" fill-opacity="0.06"/><rect x="428.0" y="100.5" width="4.8" height="18.8" fill="#000" fill-opacity="0.11"/><rect x="337.4" y="143.5" width="4.5" height="17.0" fill="#000" fill-opacity="0.05"/><rect x="309.7" y="64.6" width="2.1" height="14.6" fill="#000" fill-opacity="0.15"/><rect x="414.4" y="136.0" width="3.2" height="10.1" fill="#000" fill-opacity="0.15"/><rect x="422.4" y="116.2" width="2.1" height="10.6" fill="#fff" fill-opacity="0.03"/><rect x="339.4" y="138.3" width="4.0" height="9.3" fill="#000" fill-opacity="0.05"/><rect x="409.8" y="67.2" width="4.1" height="18.4" fill="#fff" fill-opacity="0.03"/><rect x="434.1" y="64.2" width="2.3" height="13.4" fill="#fff" fill-opacity="0.03"/><rect x="350.3" y="35.4" width="4.5" height="14.3" fill="#000" fill-opacity="0.08"/><rect x="355.2" y="35.6" width="3.4" height="15.5" fill="#000" fill-opacity="0.09"/><rect x="409.9" y="37.4" width="3.6" height="15.4" fill="#fff" fill-opacity="0.05"/><rect x="404.3" y="105.8" width="2.5" height="9.5" fill="#fff" fill-opacity="0.05"/></g></g></g>
<rect x="308.4" y="33" width="37.2" height="29.6" fill="#fff"/>
<text x="328" y="55.6" text-anchor="middle" font-size="22" font-weight="bold" fill="#000">(b)</text>
<rect x="64.0" y="247.6" width="176.2" height="176.2" fill="#fffcc4" />
<rect x="72.4" y="250.7" width="165.6" height="171.9" fill="#f6c88f" />
<rect x="111.8" y="248.2" width="126.2" height="3.8" fill="#fde428" />
<rect x="111.8" y="252.0" width="63.9" height="2.5" fill="#fde428" />
<rect x="175.6" y="255.6" width="16.7" height="8.9" fill="#fde428" />
<rect x="223.5" y="255.6" width="14.5" height="32.4" fill="#fde428" />
<rect x="80.0" y="312.3" width="32.3" height="21.1" fill="#fde428" />
<rect x="80.0" y="333.4" width="16.7" height="89.6" fill="#fde428" />
<rect x="104.5" y="335.0" width="119.0" height="88.0" fill="#fde428" />
<rect x="96.7" y="410.0" width="7.8" height="13.0" fill="#fde428" />
<rect x="223.5" y="338.0" width="14.5" height="85.0" fill="#fbd652" />
<rect x="196.8" y="352.0" width="11.2" height="14.7" fill="#f6c88f" />
<polygon points="223.5,333 223.5,351.7 207.4,353.5 204,349 213,340 218,333" fill="#258a3c"/>
<polygon points="214,338 221,336 221,348 210,350" fill="#2da86a"/>
<g transform="matrix(0.991 0 0 0.985 -229.15 223.71)">
<use href="#shape" fill="#27a12f" stroke="#27a12f" stroke-width="3.4" stroke-linejoin="round"/>
<g clip-path="url(#cs)"><g filter="url(#fc)"><g filter="url(#bl)"><rect x="295" y="15" width="190" height="200" fill="#7a7a7a"/>
<polygon points="310,66 332,62 340,78 334,86 318,84" fill="#3d3d3d"/>
<polygon points="416,80 472,70 470,112 450,128 430,134 416,126 404,104" fill="#454545"/>
<polygon points="392,104 410,104 424,134 404,150 390,140" fill="#545454"/>
<polygon points="352,64 362,62 364,92 356,96" fill="#4c4c4c"/>
<polygon points="372,60 382,58 384,96 374,98" fill="#525252"/>
<polygon points="394,50 404,48 406,90 396,92" fill="#575757"/>
<polygon points="366,34 392,28 398,52 378,60 368,52" fill="#808080"/>
<polygon points="366,100 392,100 400,130 388,146 366,124" fill="#808080"/>
<polygon points="332,103 358,99 366,123 388,143 386,160 368,182 342,196 326,202 330,150" fill="#949494"/>
<polygon points="360,140 388,144 386,160 368,182 342,196 326,202 334,176 352,166" fill="#a6a6a6"/>
<polygon points="334,150 346,146 348,176 334,180" fill="#808080"/>
<polygon points="424,30 456,30 458,50 448,56 424,50" fill="#999999"/>
<polygon points="404,34 424,40 424,70 410,66" fill="#808080"/>
<rect x="376" y="40" width="7" height="6" fill="#000000"/>
<rect x="381" y="46" width="5" height="5" fill="#000000"/></g><rect x="342.2" y="116.6" width="5.6" height="10.0" fill="#000" fill-opacity="0.07"/><rect x="343.5" y="64.0" width="10.0" height="8.7" fill="#000" fill-opacity="0.18"/><rect x="407.1" y="47.6" width="7.4" height="12.7" fill="#000" fill-opacity="0.25"/><rect x="427.8" y="127.5" width="5.1" height="4.3" fill="#000" fill-opacity="0.18"/><rect x="367.7" y="159.1" width="6.1" height="13.4" fill="#000" fill-opacity="0.08"/><rect x="323.4" y="61.1" width="9.8" height="8.4" fill="#000" fill-opacity="0.13"/><rect x="386.5" y="89.4" width="5.5" height="9.9" fill="#000" fill-opacity="0.29"/><rect x="411.6" y="49.2" width="9.0" height="13.6" fill="#000" fill-opacity="0.20"/><rect x="418.7" y="59.4" width="8.8" height="9.7" fill="#fff" fill-opacity="0.03"/><rect x="370.8" y="48.1" width="5.1" height="11.7" fill="#000" fill-opacity="0.06"/><rect x="419.2" y="78.0" width="9.2" height="13.8" fill="#000" fill-opacity="0.32"/><rect x="353.2" y="39.1" width="7.2" height="4.3" fill="#fff" fill-opacity="0.07"/><rect x="404.5" y="48.5" width="3.3" height="12.7" fill="#fff" fill-opacity="0.14"/><rect x="449.9" y="88.4" width="6.2" height="9.2" fill="#000" fill-opacity="0.21"/><rect x="392.9" y="130.1" width="9.6" height="9.1" fill="#fff" fill-opacity="0.11"/><rect x="340.0" y="75.2" width="9.8" height="9.2" fill="#000" fill-opacity="0.05"/><rect x="372.5" y="122.7" width="3.1" height="10.2" fill="#000" fill-opacity="0.07"/><rect x="405.0" y="104.4" width="7.8" height="7.5" fill="#000" fill-opacity="0.25"/><rect x="343.6" y="102.9" width="7.1" height="7.2" fill="#fff" fill-opacity="0.06"/><rect x="364.0" y="126.6" width="5.1" height="7.8" fill="#000" fill-opacity="0.06"/><rect x="396.8" y="151.3" width="5.2" height="6.2" fill="#000" fill-opacity="0.11"/><rect x="417.9" y="41.8" width="5.3" height="7.3" fill="#000" fill-opacity="0.17"/><rect x="443.6" y="51.9" width="5.4" height="10.5" fill="#000" fill-opacity="0.17"/><rect x="388.5" y="54.6" width="8.6" height="12.4" fill="#fff" fill-opacity="0.05"/><rect x="436.3" y="83.9" width="3.9" height="6.9" fill="#000" fill-opacity="0.12"/><rect x="359.8" y="95.7" width="5.9" height="8.1" fill="#000" fill-opacity="0.09"/><rect x="454.0" y="60.0" width="8.2" height="12.4" fill="#000" fill-opacity="0.19"/><rect x="351.1" y="84.3" width="4.6" height="4.7" fill="#000" fill-opacity="0.13"/><rect x="434.2" y="30.3" width="9.3" height="10.9" fill="#000" fill-opacity="0.29"/><rect x="330.4" y="75.0" width="7.6" height="9.2" fill="#fff" fill-opacity="0.13"/><rect x="404.0" y="80.4" width="4.8" height="12.6" fill="#fff" fill-opacity="0.11"/><rect x="360.3" y="55.9" width="6.7" height="12.2" fill="#fff" fill-opacity="0.12"/><rect x="311.7" y="70.0" width="4.9" height="9.3" fill="#fff" fill-opacity="0.08"/><rect x="355.1" y="76.9" width="5.5" height="10.5" fill="#000" fill-opacity="0.15"/><rect x="335.4" y="79.8" width="3.9" height="9.6" fill="#000" fill-opacity="0.15"/><rect x="363.0" y="128.1" width="8.5" height="7.8" fill="#000" fill-opacity="0.22"/><rect x="373.5" y="86.5" width="6.5" height="11.0" fill="#fff" fill-opacity="0.10"/><rect x="378.2" y="64.7" width="6.8" height="11.0" fill="#fff" fill-opacity="0.07"/><rect x="454.9" y="86.4" width="9.3" height="11.9" fill="#fff" fill-opacity="0.08"/><rect x="424.5" y="120.0" width="3.7" height="9.9" fill="#fff" fill-opacity="0.04"/><rect x="431.2" y="33.1" width="3.6" height="5.0" fill="#000" fill-opacity="0.10"/><rect x="432.8" y="29.7" width="8.4" height="9.1" fill="#000" fill-opacity="0.08"/><rect x="312.6" y="77.6" width="6.9" height="12.3" fill="#fff" fill-opacity="0.04"/><rect x="342.9" y="130.0" width="8.3" height="7.9" fill="#fff" fill-opacity="0.07"/><rect x="361.7" y="95.4" width="3.6" height="9.0" fill="#000" fill-opacity="0.16"/><rect x="424.7" y="49.8" width="7.8" height="11.6" fill="#000" fill-opacity="0.19"/><rect x="380.7" y="135.8" width="9.3" height="5.5" fill="#fff" fill-opacity="0.11"/><rect x="453.3" y="111.4" width="6.1" height="11.2" fill="#fff" fill-opacity="0.05"/><rect x="336.1" y="125.6" width="5.2" height="6.3" fill="#000" fill-opacity="0.31"/><rect x="351.6" y="143.0" width="5.9" height="12.5" fill="#000" fill-opacity="0.12"/><rect x="382.5" y="90.0" width="4.2" height="7.6" fill="#fff" fill-opacity="0.11"/><rect x="326.4" y="193.5" width="6.4" height="10.0" fill="#fff" fill-opacity="0.12"/><rect x="437.6" y="118.2" width="6.4" height="11.2" fill="#000" fill-opacity="0.16"/><rect x="380.3" y="61.9" width="4.6" height="11.2" fill="#000" fill-opacity="0.31"/><rect x="443.9" y="66.3" width="4.3" height="6.6" fill="#fff" fill-opacity="0.10"/><rect x="345.2" y="172.7" width="5.2" height="8.2" fill="#000" fill-opacity="0.07"/><rect x="350.3" y="84.0" width="7.1" height="10.8" fill="#fff" fill-opacity="0.06"/><rect x="375.3" y="106.6" width="4.5" height="9.9" fill="#000" fill-opacity="0.16"/><rect x="392.8" y="43.2" width="4.9" height="10.7" fill="#fff" fill-opacity="0.13"/><rect x="456.2" y="86.6" width="8.4" height="11.6" fill="#fff" fill-opacity="0.10"/><rect x="344.7" y="152.4" width="9.7" height="10.7" fill="#000" fill-opacity="0.08"/><rect x="383.0" y="83.2" width="8.0" height="10.8" fill="#000" fill-opacity="0.10"/><rect x="409.8" y="130.1" width="4.3" height="12.9" fill="#000" fill-opacity="0.08"/><rect x="356.8" y="147.1" width="7.2" height="9.5" fill="#000" fill-opacity="0.17"/><rect x="355.5" y="52.8" width="3.5" height="11.2" fill="#000" fill-opacity="0.20"/><rect x="424.9" y="85.9" width="4.9" height="7.8" fill="#000" fill-opacity="0.06"/><rect x="384.6" y="66.7" width="8.4" height="7.5" fill="#fff" fill-opacity="0.07"/><rect x="362.0" y="170.3" width="3.8" height="6.7" fill="#fff" fill-opacity="0.03"/><rect x="333.4" y="54.8" width="5.9" height="11.4" fill="#000" fill-opacity="0.25"/><rect x="400.2" y="50.2" width="5.8" height="5.9" fill="#000" fill-opacity="0.20"/><rect x="334.9" y="68.9" width="8.5" height="4.3" fill="#000" fill-opacity="0.29"/><rect x="458.3" y="89.0" width="6.9" height="9.8" fill="#000" fill-opacity="0.31"/><rect x="414.1" y="75.1" width="9.0" height="8.8" fill="#000" fill-opacity="0.25"/><rect x="411.2" y="108.3" width="6.7" height="8.6" fill="#fff" fill-opacity="0.08"/><rect x="408.5" y="97.6" width="7.0" height="13.6" fill="#000" fill-opacity="0.09"/><rect x="355.1" y="175.1" width="7.9" height="5.3" fill="#000" fill-opacity="0.21"/><rect x="423.0" y="80.4" width="8.6" height="13.3" fill="#000" fill-opacity="0.17"/><rect x="428.2" y="109.2" width="3.8" height="4.4" fill="#fff" fill-opacity="0.04"/><rect x="417.7" y="115.2" width="6.0" height="10.5" fill="#fff" fill-opacity="0.08"/><rect x="428.0" y="90.6" width="4.3" height="13.0" fill="#000" fill-opacity="0.15"/><rect x="363.3" y="115.9" width="7.2" height="6.2" fill="#fff" fill-opacity="0.05"/><rect x="431.3" y="49.7" width="6.2" height="6.0" fill="#fff" fill-opacity="0.04"/><rect x="370.6" y="54.4" width="3.2" height="5.1" fill="#fff" fill-opacity="0.08"/><rect x="375.5" y="95.9" width="7.9" height="4.5" fill="#fff" fill-opacity="0.07"/><rect x="380.2" y="52.6" width="7.4" height="7.5" fill="#fff" fill-opacity="0.03"/><rect x="421.1" y="71.0" width="8.5" height="8.7" fill="#000" fill-opacity="0.13"/><rect x="342.6" y="68.6" width="8.7" height="10.3" fill="#fff" fill-opacity="0.03"/><rect x="448.7" y="58.1" width="9.8" height="8.8" fill="#000" fill-opacity="0.30"/><rect x="351.2" y="130.0" width="9.6" height="4.9" fill="#fff" fill-opacity="0.12"/><rect x="356.1" y="142.1" width="9.5" height="5.7" fill="#000" fill-opacity="0.25"/><rect x="438.3" y="119.4" width="9.5" height="7.6" fill="#fff" fill-opacity="0.05"/><rect x="431.4" y="107.8" width="4.9" height="5.7" fill="#000" fill-opacity="0.21"/><rect x="419.3" y="91.8" width="6.4" height="5.5" fill="#000" fill-opacity="0.06"/><rect x="378.7" y="156.0" width="7.7" height="5.0" fill="#fff" fill-opacity="0.12"/><rect x="444.4" y="99.7" width="9.3" height="11.3" fill="#fff" fill-opacity="0.06"/><rect x="397.5" y="41.7" width="3.6" height="10.5" fill="#fff" fill-opacity="0.03"/><rect x="341.4" y="189.6" width="4.5" height="9.6" fill="#fff" fill-opacity="0.11"/><rect x="391.7" y="58.0" width="4.2" height="4.8" fill="#000" fill-opacity="0.08"/><rect x="336.9" y="177.3" width="3.6" height="8.7" fill="#fff" fill-opacity="0.12"/><rect x="402.8" y="132.0" width="8.3" height="12.7" fill="#fff" fill-opacity="0.09"/><rect x="374.7" y="42.1" width="8.8" height="9.9" fill="#000" fill-opacity="0.11"/><rect x="390.4" y="105.5" width="8.1" height="4.8" fill="#fff" fill-opacity="0.08"/><rect x="422.8" y="95.7" width="7.5" height="10.1" fill="#fff" fill-opacity="0.06"/><rect x="374.4" y="39.7" width="4.5" height="5.7" fill="#000" fill-opacity="0.25"/><rect x="389.0" y="93.5" width="9.6" height="13.0" fill="#000" fill-opacity="0.18"/><rect x="427.9" y="91.4" width="10.0" height="13.2" fill="#fff" fill-opacity="0.13"/><rect x="421.1" y="73.4" width="6.6" height="10.4" fill="#fff" fill-opacity="0.11"/><rect x="358.4" y="152.2" width="8.2" height="6.9" fill="#fff" fill-opacity="0.06"/><rect x="371.4" y="35.5" width="4.1" height="11.6" fill="#000" fill-opacity="0.31"/><rect x="364.5" y="51.4" width="5.2" height="8.6" fill="#000" fill-opacity="0.20"/><rect x="362.5" y="170.3" width="5.0" height="8.6" fill="#000" fill-opacity="0.27"/><rect x="350.5" y="67.7" width="8.6" height="4.1" fill="#fff" fill-opacity="0.08"/><rect x="392.2" y="53.5" width="3.4" height="6.0" fill="#000" fill-opacity="0.18"/><rect x="375.2" y="81.5" width="3.4" height="9.5" fill="#fff" fill-opacity="0.06"/><rect x="343.6" y="162.7" width="5.9" height="6.6" fill="#fff" fill-opacity="0.07"/><rect x="404.2" y="138.1" width="9.4" height="12.1" fill="#fff" fill-opacity="0.04"/><rect x="394.4" y="74.0" width="4.2" height="4.2" fill="#000" fill-opacity="0.29"/><rect x="450.8" y="101.8" width="7.7" height="13.3" fill="#000" fill-opacity="0.21"/><rect x="371.9" y="114.3" width="4.2" height="5.8" fill="#000" fill-opacity="0.32"/><rect x="393.0" y="93.9" width="5.5" height="8.5" fill="#000" fill-opacity="0.17"/><rect x="460.7" y="50.1" width="5.2" height="9.2" fill="#fff" fill-opacity="0.12"/><rect x="397.0" y="119.2" width="6.4" height="6.8" fill="#000" fill-opacity="0.30"/><rect x="362.3" y="109.7" width="9.3" height="13.6" fill="#000" fill-opacity="0.10"/><rect x="454.2" y="53.0" width="5.7" height="12.3" fill="#fff" fill-opacity="0.05"/><rect x="355.6" y="92.9" width="5.0" height="5.3" fill="#fff" fill-opacity="0.14"/><rect x="316.8" y="65.1" width="4.4" height="4.8" fill="#000" fill-opacity="0.25"/><rect x="350.5" y="190.0" width="3.5" height="6.7" fill="#fff" fill-opacity="0.05"/><rect x="393.2" y="29.3" width="4.7" height="13.6" fill="#fff" fill-opacity="0.13"/><rect x="331.3" y="193.5" width="7.7" height="10.5" fill="#fff" fill-opacity="0.03"/><rect x="428.4" y="52.2" width="4.3" height="12.2" fill="#000" fill-opacity="0.06"/><rect x="365.8" y="39.5" width="5.7" height="13.9" fill="#fff" fill-opacity="0.04"/><rect x="362.0" y="182.4" width="3.5" height="5.9" fill="#000" fill-opacity="0.32"/><rect x="464.0" y="63.5" width="5.5" height="13.5" fill="#fff" fill-opacity="0.10"/><rect x="358.4" y="151.8" width="8.5" height="9.7" fill="#fff" fill-opacity="0.08"/><rect x="374.1" y="116.9" width="8.8" height="6.0" fill="#000" fill-opacity="0.30"/><rect x="440.3" y="52.7" width="9.7" height="12.4" fill="#fff" fill-opacity="0.05"/><rect x="447.6" y="41.4" width="3.1" height="12.7" fill="#000" fill-opacity="0.32"/><rect x="414.2" y="115.9" width="8.4" height="4.9" fill="#000" fill-opacity="0.17"/><rect x="356.2" y="111.5" width="5.6" height="7.2" fill="#fff" fill-opacity="0.09"/><rect x="347.0" y="43.5" width="6.5" height="11.3" fill="#fff" fill-opacity="0.10"/><rect x="349.2" y="189.9" width="6.2" height="8.8" fill="#000" fill-opacity="0.29"/><rect x="376.7" y="130.1" width="3.5" height="8.3" fill="#000" fill-opacity="0.26"/><rect x="362.7" y="58.5" width="6.8" height="12.8" fill="#fff" fill-opacity="0.12"/><rect x="420.1" y="85.7" width="5.1" height="9.1" fill="#fff" fill-opacity="0.06"/><rect x="399.6" y="49.3" width="4.5" height="7.7" fill="#000" fill-opacity="0.09"/><rect x="316.9" y="81.0" width="5.0" height="4.3" fill="#000" fill-opacity="0.30"/><rect x="389.2" y="148.6" width="8.8" height="12.4" fill="#000" fill-opacity="0.17"/><rect x="413.3" y="44.9" width="9.2" height="7.8" fill="#fff" fill-opacity="0.13"/><rect x="348.6" y="55.7" width="8.8" height="10.0" fill="#fff" fill-opacity="0.02"/><rect x="440.1" y="55.6" width="4.9" height="7.9" fill="#000" fill-opacity="0.17"/><rect x="406.1" y="139.0" width="6.1" height="5.0" fill="#000" fill-opacity="0.24"/><rect x="380.1" y="94.5" width="9.3" height="12.3" fill="#fff" fill-opacity="0.07"/><rect x="390.1" y="123.6" width="3.6" height="6.3" fill="#fff" fill-opacity="0.12"/><rect x="389.5" y="71.6" width="9.9" height="10.6" fill="#000" fill-opacity="0.10"/><rect x="353.0" y="178.1" width="3.9" height="9.3" fill="#000" fill-opacity="0.15"/><rect x="374.8" y="75.3" width="4.4" height="12.7" fill="#fff" fill-opacity="0.12"/><rect x="453.6" y="93.4" width="4.5" height="5.9" fill="#fff" fill-opacity="0.08"/><rect x="364.6" y="172.2" width="8.8" height="4.6" fill="#fff" fill-opacity="0.07"/><rect x="332.7" y="65.7" width="4.8" height="10.9" fill="#fff" fill-opacity="0.03"/><rect x="394.7" y="67.1" width="7.9" height="6.2" fill="#000" fill-opacity="0.21"/><rect x="331.9" y="152.5" width="5.8" height="9.4" fill="#000" fill-opacity="0.22"/><rect x="374.3" y="31.3" width="8.5" height="12.6" fill="#fff" fill-opacity="0.09"/><rect x="346.1" y="179.5" width="7.8" height="6.2" fill="#000" fill-opacity="0.32"/><rect x="381.2" y="55.0" width="8.0" height="7.4" fill="#000" fill-opacity="0.21"/><rect x="442.1" y="103.9" width="6.8" height="12.6" fill="#fff" fill-opacity="0.08"/><rect x="428.3" y="116.6" width="5.1" height="12.9" fill="#000" fill-opacity="0.20"/><rect x="427.1" y="72.7" width="3.1" height="10.8" fill="#000" fill-opacity="0.14"/><rect x="382.1" y="120.1" width="4.7" height="11.0" fill="#000" fill-opacity="0.15"/><rect x="356.3" y="148.7" width="4.2" height="7.9" fill="#fff" fill-opacity="0.07"/><rect x="398.8" y="42.0" width="3.4" height="8.8" fill="#fff" fill-opacity="0.08"/><rect x="445.5" y="114.3" width="5.8" height="4.7" fill="#fff" fill-opacity="0.06"/><rect x="372.3" y="70.2" width="9.7" height="5.9" fill="#000" fill-opacity="0.19"/><rect x="333.8" y="60.4" width="9.9" height="11.9" fill="#000" fill-opacity="0.29"/><rect x="426.0" y="59.9" width="6.2" height="13.7" fill="#fff" fill-opacity="0.11"/><rect x="330.7" y="138.2" width="4.9" height="9.1" fill="#fff" fill-opacity="0.12"/><rect x="424.3" y="110.6" width="7.8" height="8.3" fill="#000" fill-opacity="0.12"/><rect x="392.4" y="126.5" width="5.7" height="4.5" fill="#fff" fill-opacity="0.10"/><rect x="337.4" y="151.6" width="6.5" height="13.5" fill="#000" fill-opacity="0.25"/><rect x="363.6" y="29.8" width="6.9" height="11.5" fill="#000" fill-opacity="0.10"/><rect x="327.9" y="192.2" width="8.2" height="8.8" fill="#000" fill-opacity="0.09"/><rect x="391.6" y="140.2" width="7.2" height="5.6" fill="#fff" fill-opacity="0.09"/><rect x="449.5" y="49.3" width="3.0" height="4.8" fill="#000" fill-opacity="0.16"/><rect x="402.3" y="71.3" width="7.9" height="4.0" fill="#fff" fill-opacity="0.10"/><rect x="386.1" y="81.9" width="9.8" height="5.0" fill="#000" fill-opacity="0.15"/><rect x="434.3" y="100.9" width="7.7" height="7.3" fill="#fff" fill-opacity="0.07"/><rect x="434.9" y="83.3" width="4.6" height="8.2" fill="#fff" fill-opacity="0.06"/><rect x="396.4" y="118.4" width="7.2" height="6.9" fill="#fff" fill-opacity="0.02"/><rect x="358.1" y="58.5" width="7.0" height="6.7" fill="#000" fill-opacity="0.21"/><rect x="389.0" y="99.1" width="5.2" height="4.6" fill="#000" fill-opacity="0.19"/><rect x="398.4" y="132.6" width="6.1" height="5.3" fill="#000" fill-opacity="0.10"/></g>
<use href="#shape" fill="none" stroke="#27a12f" stroke-width="3.4" stroke-opacity="0.55"/>
<polygon points="424,42 444,40 448,60 444,76 430,80 424,66" fill="#fde428"/>
<polygon points="444,40 452,38 454,52 448,58" fill="#f6c88f"/>
<polygon points="447,52 456,50 466,53 468,60 472,67 472,71 452,69 446,62" fill="#1f6b35"/>
<polygon points="452,58 462,57 466,64 454,66" fill="#2c8a3a"/>
<polygon points="424,66 430,80 426,84 420,74" fill="#f6c88f"/>
<polygon points="425,33 434,29.5 445,30 452,36 450,43 444,41 425,43" fill="#218a3c"/>
<rect x="430" y="33" width="7" height="5" fill="#3cc050"/>
<rect x="441" y="34" width="5" height="6" fill="#2fae5a"/>
<rect x="437" y="31" width="4" height="4" fill="#166a30"/>
<rect x="432.5" y="52" width="6.5" height="19" fill="#f6c88f"/>
<rect x="427" y="48" width="4.5" height="17" fill="#1f7a3a"/>
<rect x="434" y="37" width="6" height="17" fill="#2aa84a"/>
<rect x="436" y="41" width="3" height="8" fill="#8ad43a"/>
<rect x="440" y="46" width="4" height="12" fill="#23803c"/>
<rect x="429.1" y="62.1" width="5" height="2" fill="#7ad03a"/>
<rect x="440.2" y="79.6" width="4" height="3" fill="#b8de2a"/>
<rect x="427.8" y="70.4" width="5" height="6" fill="#2f7f4f"/>
<rect x="441.2" y="43.2" width="3" height="6" fill="#49b85a"/>
<rect x="444.2" y="68.2" width="3" height="2" fill="#2aa23a"/>
<rect x="431.0" y="37.5" width="5" height="6" fill="#7ad03a"/>
<rect x="443.4" y="80.2" width="5" height="3" fill="#b8de2a"/>
<rect x="448.4" y="40.7" width="5" height="3" fill="#1f8f3a"/>
<rect x="429.7" y="68.3" width="4" height="6" fill="#49b85a"/>
<rect x="437.2" y="54.5" width="5" height="3" fill="#7ad03a"/>
<rect x="449.1" y="68.7" width="4" height="3" fill="#2aa23a"/>
<rect x="443.0" y="51.7" width="2" height="3" fill="#2f7f4f"/>
<rect x="441.0" y="83.4" width="4" height="2" fill="#7ad03a"/>
<rect x="423.9" y="77.0" width="2" height="4" fill="#b8de2a"/>
<rect x="446.0" y="55.7" width="2" height="4" fill="#1f8f3a"/>
<rect x="434.8" y="55.9" width="2" height="2" fill="#2aa23a"/>
<rect x="433.3" y="64.1" width="4" height="3" fill="#2f7f4f"/>
<rect x="452.0" y="50.9" width="2" height="2" fill="#2aa23a"/>
<rect x="450.5" y="82.6" width="4" height="3" fill="#7ad03a"/>
<rect x="442.7" y="83.0" width="4" height="4" fill="#7ad03a"/>
<rect x="450.8" y="79.0" width="5" height="6" fill="#b8de2a"/>
<rect x="448.1" y="54.5" width="2" height="4" fill="#2f7f4f"/>
<rect x="434.9" y="70.6" width="4" height="6" fill="#1f8f3a"/>
<rect x="451.3" y="61.0" width="4" height="2" fill="#2f7f4f"/>
<rect x="445.7" y="83.4" width="2" height="6" fill="#7ad03a"/>
<rect x="440.5" y="66.3" width="4" height="6" fill="#2aa23a"/>
<rect x="404.8" y="64.6" width="3" height="3.5" fill="#f4c4c4"/>
<rect x="406.9" y="68.0" width="4" height="2.5" fill="#f4c4c4"/>
<rect x="405.9" y="64.5" width="2" height="2" fill="#f4c4c4"/>
<rect x="371.4" y="67.8" width="2.5" height="2.5" fill="#f4c4c4"/>
<rect x="370.6" y="68.7" width="4" height="3.5" fill="#f4c4c4"/>
<rect x="369.2" y="65.4" width="3" height="3.5" fill="#f4c4c4"/>
<rect x="354.1" y="84.7" width="2" height="2.5" fill="#f4c4c4"/>
<rect x="354.7" y="80.0" width="2" height="3.5" fill="#f4c4c4"/>
<rect x="360.4" y="74.0" width="4" height="2.5" fill="#f4c4c4"/>
<rect x="359.0" y="72.7" width="2.5" height="2" fill="#f4c4c4"/>
<rect x="362.8" y="73.6" width="2" height="2" fill="#f4c4c4"/>
<rect x="384.6" y="87.1" width="3" height="2.5" fill="#f4c4c4"/>
<rect x="386.6" y="86.7" width="3" height="3.5" fill="#f4c4c4"/>
<rect x="383.8" y="86.3" width="4" height="3.5" fill="#f4c4c4"/>
<rect x="383.1" y="88.9" width="2.5" height="3.5" fill="#f4c4c4"/>
<rect x="416.0" y="74.8" width="2.5" height="3" fill="#f4c4c4"/>
<rect x="416.4" y="75.4" width="2.5" height="2.5" fill="#f4c4c4"/>
<rect x="419.2" y="81.7" width="3" height="2.5" fill="#f4c4c4"/>
<rect x="415.0" y="79.9" width="2.5" height="3.5" fill="#f4c4c4"/>
<rect x="416.7" y="83.0" width="2.5" height="3.5" fill="#f4c4c4"/>
<rect x="405.4" y="96.9" width="3" height="3.5" fill="#f4c4c4"/>
<rect x="403.0" y="97.8" width="2.5" height="2.5" fill="#f4c4c4"/>
<rect x="402.5" y="96.1" width="4" height="3.5" fill="#f4c4c4"/>
<rect x="399.3" y="99.8" width="3" height="3" fill="#f4c4c4"/>
<rect x="394.0" y="101.2" width="4" height="2" fill="#f4c4c4"/>
<rect x="368.3" y="101.3" width="2.5" height="3.5" fill="#f4c4c4"/>
<rect x="364.0" y="102.0" width="4" height="2" fill="#f4c4c4"/>
<rect x="369.9" y="105.6" width="3" height="2.5" fill="#f4c4c4"/>
<rect x="422.5" y="113.4" width="4" height="3" fill="#f4c4c4"/>
<rect x="420.5" y="114.7" width="2.5" height="2" fill="#f4c4c4"/>
<rect x="422.2" y="111.9" width="2" height="3" fill="#f4c4c4"/>
<rect x="432.0" y="126.1" width="4" height="3" fill="#f4c4c4"/>
<rect x="433.0" y="125.9" width="2.5" height="2.5" fill="#f4c4c4"/>
<rect x="429.8" y="124.3" width="2.5" height="2" fill="#f4c4c4"/>
<rect x="428.6" y="127.3" width="2" height="3" fill="#f4c4c4"/>
<rect x="424.2" y="129.4" width="3" height="3.5" fill="#f4c4c4"/>
<rect x="426.6" y="128.3" width="2.5" height="2.5" fill="#f4c4c4"/>
<rect x="425.0" y="129.4" width="2" height="2" fill="#f4c4c4"/>
<rect x="376.6" y="121.2" width="4" height="2.5" fill="#f4c4c4"/>
<rect x="379.9" y="118.3" width="3" height="2" fill="#f4c4c4"/>
<rect x="341.6" y="119.1" width="3" height="3.5" fill="#f4c4c4"/>
<rect x="345.4" y="118.3" width="2" height="3" fill="#f4c4c4"/>
<rect x="345.3" y="119.8" width="2.5" height="2" fill="#f4c4c4"/>
<rect x="338.5" y="123.4" width="3" height="3.5" fill="#f4c4c4"/>
<rect x="333.8" y="122.0" width="2" height="3.5" fill="#f4c4c4"/>
<rect x="335.2" y="126.3" width="4" height="3.5" fill="#f4c4c4"/>
<rect x="357.9" y="135.8" width="2" height="2" fill="#f4c4c4"/>
<rect x="356.2" y="134.9" width="3" height="3.5" fill="#f4c4c4"/>
<rect x="356.8" y="137.0" width="2.5" height="3.5" fill="#f4c4c4"/>
<rect x="355.0" y="137.9" width="2" height="2" fill="#f4c4c4"/>
<rect x="415.4" y="136.6" width="2.5" height="3.5" fill="#f4c4c4"/>
<rect x="417.9" y="139.0" width="3" height="2.5" fill="#f4c4c4"/>
<rect x="417.0" y="137.2" width="3" height="3.5" fill="#f4c4c4"/>
<rect x="419.6" y="140.1" width="2" height="2.5" fill="#f4c4c4"/>
<rect x="409.1" y="53.2" width="2.5" height="2" fill="#f4c4c4"/>
<rect x="411.0" y="48.5" width="3" height="3.5" fill="#f4c4c4"/>
<rect x="412.6" y="50.9" width="2" height="2.5" fill="#f4c4c4"/>
<rect x="395.8" y="40.9" width="2.5" height="3" fill="#f4c4c4"/>
<rect x="394.8" y="39.6" width="3" height="2.5" fill="#f4c4c4"/>
<rect x="400.0" y="41.7" width="2.5" height="3" fill="#f4c4c4"/>
<rect x="398.1" y="39.7" width="4" height="3.5" fill="#f4c4c4"/>
<rect x="414.1" y="58.2" width="3" height="2.5" fill="#f4c4c4"/>
<rect x="416.0" y="58.2" width="2" height="2.5" fill="#f4c4c4"/>
<rect x="417.3" y="56.0" width="3" height="3" fill="#f4c4c4"/>
<rect x="412.1" y="57.1" width="2" height="3.5" fill="#f4c4c4"/>
<rect x="443.8" y="70.8" width="2" height="2.5" fill="#f4c4c4"/>
<rect x="439.2" y="70.9" width="4" height="3" fill="#f4c4c4"/>
<rect x="444.8" y="70.9" width="2.5" height="3.5" fill="#f4c4c4"/>
<rect x="442.6" y="69.3" width="2.5" height="3.5" fill="#f4c4c4"/>
<rect x="449.2" y="73.7" width="4" height="2" fill="#f4c4c4"/>
<rect x="447.8" y="72.6" width="4" height="2.5" fill="#f4c4c4"/>
<rect x="444.8" y="74.3" width="4" height="3.5" fill="#f4c4c4"/>
<rect x="448.7" y="75.4" width="2.5" height="3" fill="#f4c4c4"/>
<rect x="462.7" y="101.5" width="2" height="2" fill="#f4c4c4"/>
<rect x="464.6" y="100.7" width="2" height="2.5" fill="#f4c4c4"/>
<rect x="462.5" y="101.8" width="2.5" height="2" fill="#f4c4c4"/>
<rect x="344.1" y="151.7" width="4" height="2.5" fill="#f4c4c4"/>
<rect x="343.1" y="148.7" width="3" height="3" fill="#f4c4c4"/>
<rect x="344.9" y="151.5" width="4" height="2" fill="#f4c4c4"/>
<rect x="345.4" y="148.6" width="2" height="3" fill="#f4c4c4"/>
<rect x="345.6" y="158.8" width="4" height="2.5" fill="#f4c4c4"/>
<rect x="351.7" y="158.9" width="2" height="3" fill="#f4c4c4"/>
<rect x="350.6" y="157.8" width="2" height="3" fill="#f4c4c4"/>
<rect x="338.0" y="174.9" width="3" height="2" fill="#f4c4c4"/>
<rect x="342.3" y="173.5" width="3" height="2" fill="#f4c4c4"/>
<rect x="341.6" y="175.6" width="2.5" height="2.5" fill="#f4c4c4"/>
<rect x="341.9" y="175.0" width="4" height="2.5" fill="#f4c4c4"/>
<rect x="361.8" y="151.3" width="4" height="3" fill="#f4c4c4"/>
<rect x="362.0" y="149.7" width="2.5" height="3" fill="#f4c4c4"/>
<rect x="359.5" y="152.9" width="3" height="2.5" fill="#f4c4c4"/>
<rect x="396.2" y="79.7" width="2" height="2.5" fill="#f4c4c4"/>
<rect x="394.7" y="75.7" width="3" height="3" fill="#f4c4c4"/>
<rect x="373.2" y="96.2" width="4" height="3.5" fill="#f4c4c4"/>
<rect x="377.3" y="96.6" width="3" height="2.5" fill="#f4c4c4"/>
<rect x="391.6" y="107.6" width="4" height="3" fill="#f4c4c4"/>
<rect x="387.6" y="111.3" width="2.5" height="2" fill="#f4c4c4"/>
<rect x="391.4" y="108.2" width="4" height="3" fill="#f4c4c4"/>
<rect x="391.8" y="109.9" width="2.5" height="3.5" fill="#f4c4c4"/>
<rect x="408.0" y="105.2" width="3" height="3.5" fill="#f4c4c4"/>
<rect x="406.3" y="107.1" width="4" height="2" fill="#f4c4c4"/>
<rect x="406.0" y="109.8" width="2.5" height="3.5" fill="#f4c4c4"/>
<rect x="356.7" y="125.1" width="2.4" height="3" fill="#f6bcd6"/>
<rect x="406.5" y="60.5" width="3.6" height="4" fill="#f6bcd6"/>
<rect x="408.7" y="58.1" width="2.9" height="3.2" fill="#f6bcd6"/>
<rect x="361.1" y="106.6" width="3" height="1.6" fill="#f6bcd6"/>
<rect x="362.9" y="105.7" width="2.4" height="1.3" fill="#f6bcd6"/>
<rect x="376.9" y="141.6" width="3" height="3" fill="#f6bcd6"/>
<rect x="436.5" y="87.0" width="4.5" height="1.6" fill="#f6bcd6"/>
<rect x="381.6" y="117.1" width="1.6" height="1.6" fill="#f6bcd6"/>
<rect x="396.3" y="87.6" width="2.4" height="3" fill="#f6bcd6"/>
<rect x="397.7" y="85.8" width="1.9" height="2.4" fill="#f6bcd6"/>
<rect x="366.6" y="128.2" width="2" height="1.6" fill="#f6bcd6"/>
<rect x="367.0" y="148.2" width="4.5" height="4" fill="#f6bcd6"/>
<rect x="369.8" y="83.8" width="3" height="2" fill="#f6bcd6"/>
<rect x="371.6" y="82.6" width="2.4" height="1.6" fill="#f6bcd6"/>
<rect x="375.5" y="124.6" width="2.4" height="3" fill="#f6bcd6"/>
<rect x="449.6" y="99.3" width="1.6" height="1.6" fill="#f6bcd6"/>
<rect x="450.6" y="98.4" width="1.3" height="1.3" fill="#f6bcd6"/>
<rect x="350.2" y="42.8" width="3.6" height="4" fill="#f6bcd6"/>
<rect x="352.4" y="40.4" width="2.9" height="3.2" fill="#f6bcd6"/>
<rect x="419.0" y="111.1" width="2" height="2" fill="#f6bcd6"/>
<rect x="404.3" y="109.9" width="2.4" height="2" fill="#f6bcd6"/>
<rect x="405.7" y="108.7" width="1.9" height="1.6" fill="#f6bcd6"/>
<rect x="433.9" y="68.7" width="3" height="2.4" fill="#f6bcd6"/>
<rect x="435.7" y="67.3" width="2.4" height="1.9" fill="#f6bcd6"/>
<rect x="361.1" y="184.3" width="2" height="1.5" fill="#1a1030"/>
<rect x="416.1" y="52.8" width="2" height="3" fill="#1a1030"/>
<rect x="359.1" y="136.3" width="3" height="2" fill="#1a1030"/>
<rect x="387.1" y="114.2" width="2" height="2" fill="#1a1030"/>
<rect x="345.3" y="75.1" width="2" height="3" fill="#1a1030"/>
<rect x="365.7" y="101.1" width="3" height="3" fill="#1a1030"/>
<rect x="348.1" y="78.8" width="2" height="2" fill="#1a1030"/>
<rect x="406.3" y="96.6" width="4" height="1.5" fill="#1a1030"/>
<rect x="373.9" y="143.7" width="3" height="3" fill="#1a1030"/>
<rect x="394.4" y="71.2" width="2" height="3" fill="#1a1030"/>
</g></g>
<rect x="108.0" y="410.7" width="4.4" height="4.3" fill="#3a0808" />
<rect x="104.0" y="405.5" width="3.0" height="2.0" fill="#101010" />
<rect x="73.0" y="251.0" width="38.8" height="28.5" fill="#fff" />
<text x="93.7" y="273.3" text-anchor="middle" font-size="22" font-weight="bold" fill="#000">(c)</text>
<rect x="304.4" y="248.5" width="175.3" height="175.1" fill="#fffcc4" />
<rect x="464.0" y="416.3" width="15.7" height="7.3" fill="#fffde8" />
<rect x="307.0" y="251.0" width="162.6" height="169.7" fill="#f6c88f" />
<rect x="345.0" y="248.5" width="124.6" height="3.9" fill="#fde428" />
<rect x="307.0" y="304.6" width="13.6" height="111.0" fill="#fde428" />
<rect x="320.6" y="311.0" width="15.4" height="73.0" fill="#fde428" />
<rect x="336.0" y="320.0" width="12.5" height="9.0" fill="#fde428" />
<rect x="448.0" y="250.0" width="16.0" height="21.6" fill="#fde428" />
<rect x="400.0" y="250.0" width="25.5" height="14.4" fill="#f8d45c" />
<rect x="431.7" y="351.7" width="32.3" height="64.6" fill="#fde428" />
<rect x="400.6" y="368.4" width="31.1" height="47.9" fill="#fde428" />
<rect x="385.0" y="383.0" width="15.6" height="33.3" fill="#fde428" />
<rect x="352.0" y="398.0" width="33.0" height="18.3" fill="#fde428" />
<rect x="423.6" y="357.5" width="40.4" height="8.9" fill="#fdea70" />
<g transform="matrix(0.973 0 0 0.975 10.94 223.28)">
<use href="#shape" fill="#3a2c22" stroke="#3a2c22" stroke-width="1.6" stroke-linejoin="round"/>
<g clip-path="url(#cs)"><g filter="url(#fd)"><g filter="url(#bl)"><rect x="295" y="15" width="190" height="200" fill="#262626"/>
<polygon points="338,88 362,84 364,140 350,146 338,140" fill="#4c4c4c"/>
<polygon points="334,160 360,152 382,160 370,184 350,197 326,202 330,176" fill="#4f4f4f"/>
<polygon points="392,106 420,104 424,140 404,150 392,146" fill="#424242"/>
<polygon points="350,36 392,30 394,62 352,64" fill="#383838"/>
<polygon points="308,66 332,62 340,78 334,86 318,84" fill="#2b2b2b"/>
<polygon points="368,54 420,50 424,100 370,104" fill="#121212"/>
<polygon points="420,78 472,72 470,112 450,128 424,128" fill="#121212"/>
<polygon points="333,106 342,104 343,156 333,160" fill="#0d0d0d"/>
<polygon points="404,34 424,40 424,60 410,60" fill="#4c4c4c"/></g><rect x="369.2" y="50.6" width="3.5" height="8.0" fill="#000" fill-opacity="0.19"/><rect x="428.1" y="62.8" width="6.8" height="6.8" fill="#fff" fill-opacity="0.03"/><rect x="336.8" y="181.5" width="8.8" height="12.1" fill="#000" fill-opacity="0.08"/><rect x="352.8" y="129.6" width="8.1" height="12.5" fill="#000" fill-opacity="0.07"/><rect x="402.1" y="140.6" width="6.5" height="5.8" fill="#fff" fill-opacity="0.03"/><rect x="391.1" y="74.8" width="9.4" height="9.7" fill="#000" fill-opacity="0.20"/><rect x="385.8" y="95.0" width="7.2" height="8.3" fill="#fff" fill-opacity="0.04"/><rect x="437.6" y="30.3" width="3.3" height="10.3" fill="#fff" fill-opacity="0.06"/><rect x="378.3" y="84.0" width="10.0" height="6.0" fill="#fff" fill-opacity="0.04"/><rect x="407.0" y="69.8" width="5.5" height="11.5" fill="#fff" fill-opacity="0.06"/><rect x="311.9" y="62.3" width="8.4" height="10.2" fill="#fff" fill-opacity="0.05"/><rect x="351.1" y="58.2" width="6.1" height="5.4" fill="#fff" fill-opacity="0.10"/><rect x="432.0" y="87.9" width="5.0" height="5.0" fill="#000" fill-opacity="0.12"/><rect x="415.4" y="49.3" width="3.3" height="8.9" fill="#fff" fill-opacity="0.10"/><rect x="427.9" y="94.0" width="9.9" height="8.8" fill="#fff" fill-opacity="0.05"/><rect x="342.4" y="176.5" width="8.8" height="9.0" fill="#fff" fill-opacity="0.04"/><rect x="343.4" y="57.4" width="4.6" height="12.7" fill="#fff" fill-opacity="0.02"/><rect x="463.8" y="92.0" width="9.3" height="10.5" fill="#000" fill-opacity="0.18"/><rect x="384.8" y="37.6" width="4.5" height="12.7" fill="#000" fill-opacity="0.21"/><rect x="356.9" y="135.8" width="8.6" height="10.4" fill="#000" fill-opacity="0.14"/><rect x="410.9" y="139.4" width="4.9" height="13.2" fill="#000" fill-opacity="0.06"/><rect x="406.1" y="119.3" width="8.2" height="13.3" fill="#fff" fill-opacity="0.02"/><rect x="445.4" y="42.0" width="8.7" height="11.8" fill="#000" fill-opacity="0.15"/><rect x="446.3" y="59.0" width="7.7" height="7.3" fill="#000" fill-opacity="0.18"/><rect x="381.7" y="116.4" width="3.2" height="4.3" fill="#000" fill-opacity="0.14"/><rect x="430.3" y="111.8" width="3.1" height="12.4" fill="#000" fill-opacity="0.06"/><rect x="390.9" y="90.0" width="8.5" height="7.1" fill="#fff" fill-opacity="0.06"/><rect x="448.2" y="109.9" width="6.0" height="12.6" fill="#000" fill-opacity="0.06"/><rect x="448.0" y="55.5" width="5.1" height="12.4" fill="#fff" fill-opacity="0.08"/><rect x="331.3" y="175.6" width="4.2" height="5.5" fill="#fff" fill-opacity="0.05"/><rect x="353.9" y="116.2" width="6.4" height="11.2" fill="#fff" fill-opacity="0.03"/><rect x="343.5" y="167.9" width="5.5" height="11.7" fill="#000" fill-opacity="0.16"/><rect x="414.4" y="126.3" width="5.2" height="13.1" fill="#fff" fill-opacity="0.09"/><rect x="351.9" y="172.1" width="8.5" height="10.1" fill="#fff" fill-opacity="0.03"/><rect x="428.6" y="87.6" width="7.6" height="5.3" fill="#fff" fill-opacity="0.03"/><rect x="434.0" y="54.7" width="9.3" height="7.7" fill="#000" fill-opacity="0.11"/><rect x="404.9" y="37.4" width="5.8" height="13.4" fill="#fff" fill-opacity="0.07"/><rect x="358.0" y="77.6" width="3.2" height="4.2" fill="#000" fill-opacity="0.19"/><rect x="458.8" y="50.8" width="7.1" height="9.0" fill="#000" fill-opacity="0.21"/><rect x="352.7" y="182.6" width="5.8" height="10.0" fill="#000" fill-opacity="0.17"/><rect x="354.1" y="62.5" width="5.3" height="10.3" fill="#000" fill-opacity="0.21"/><rect x="367.3" y="93.5" width="8.7" height="6.8" fill="#fff" fill-opacity="0.02"/><rect x="332.2" y="115.8" width="7.9" height="10.1" fill="#fff" fill-opacity="0.09"/><rect x="406.5" y="48.0" width="3.5" height="13.7" fill="#000" fill-opacity="0.21"/><rect x="403.2" y="78.4" width="3.6" height="6.6" fill="#fff" fill-opacity="0.09"/><rect x="327.8" y="62.3" width="5.1" height="13.5" fill="#fff" fill-opacity="0.08"/><rect x="412.8" y="118.8" width="9.7" height="6.6" fill="#000" fill-opacity="0.08"/><rect x="356.2" y="42.0" width="3.4" height="13.9" fill="#fff" fill-opacity="0.09"/><rect x="393.8" y="142.6" width="8.1" height="9.5" fill="#000" fill-opacity="0.08"/><rect x="442.7" y="108.4" width="3.5" height="5.7" fill="#000" fill-opacity="0.09"/><rect x="365.7" y="141.7" width="9.0" height="7.3" fill="#fff" fill-opacity="0.05"/><rect x="340.9" y="117.6" width="6.3" height="11.2" fill="#fff" fill-opacity="0.08"/><rect x="363.8" y="168.8" width="8.8" height="9.9" fill="#fff" fill-opacity="0.07"/><rect x="451.8" y="74.0" width="7.5" height="13.0" fill="#000" fill-opacity="0.06"/><rect x="405.1" y="66.7" width="9.0" height="10.6" fill="#fff" fill-opacity="0.09"/><rect x="404.1" y="79.9" width="8.8" height="12.9" fill="#000" fill-opacity="0.20"/><rect x="410.4" y="143.5" width="7.2" height="9.3" fill="#000" fill-opacity="0.11"/><rect x="384.1" y="118.6" width="7.2" height="6.5" fill="#fff" fill-opacity="0.03"/><rect x="415.3" y="42.0" width="9.8" height="12.3" fill="#000" fill-opacity="0.05"/><rect x="381.6" y="46.5" width="5.5" height="12.9" fill="#000" fill-opacity="0.19"/><rect x="351.3" y="92.6" width="7.2" height="4.3" fill="#fff" fill-opacity="0.10"/><rect x="350.7" y="141.3" width="8.5" height="11.0" fill="#fff" fill-opacity="0.03"/><rect x="454.7" y="71.4" width="8.3" height="8.1" fill="#000" fill-opacity="0.20"/><rect x="356.3" y="130.1" width="4.8" height="9.1" fill="#fff" fill-opacity="0.04"/><rect x="351.1" y="179.5" width="3.9" height="11.6" fill="#fff" fill-opacity="0.10"/><rect x="336.9" y="182.0" width="7.7" height="12.9" fill="#fff" fill-opacity="0.03"/><rect x="356.9" y="103.5" width="9.9" height="5.7" fill="#fff" fill-opacity="0.09"/><rect x="350.8" y="119.0" width="7.6" height="13.1" fill="#fff" fill-opacity="0.09"/><rect x="333.8" y="145.7" width="3.2" height="11.7" fill="#fff" fill-opacity="0.04"/><rect x="400.6" y="87.8" width="9.9" height="5.7" fill="#fff" fill-opacity="0.09"/><rect x="321.1" y="57.9" width="4.0" height="8.8" fill="#000" fill-opacity="0.14"/><rect x="361.0" y="150.1" width="8.9" height="11.6" fill="#fff" fill-opacity="0.03"/><rect x="338.4" y="66.0" width="7.0" height="5.9" fill="#000" fill-opacity="0.11"/><rect x="360.8" y="146.8" width="9.6" height="5.9" fill="#fff" fill-opacity="0.10"/><rect x="333.3" y="163.3" width="8.1" height="13.4" fill="#fff" fill-opacity="0.02"/><rect x="353.3" y="149.0" width="5.7" height="5.4" fill="#fff" fill-opacity="0.06"/><rect x="362.4" y="102.6" width="4.0" height="4.3" fill="#000" fill-opacity="0.18"/><rect x="372.1" y="43.0" width="5.1" height="9.6" fill="#000" fill-opacity="0.13"/><rect x="332.1" y="128.8" width="7.2" height="10.0" fill="#000" fill-opacity="0.05"/><rect x="375.7" y="163.4" width="4.0" height="4.4" fill="#fff" fill-opacity="0.04"/><rect x="373.6" y="79.2" width="7.4" height="5.7" fill="#fff" fill-opacity="0.07"/><rect x="456.9" y="67.7" width="5.3" height="9.4" fill="#000" fill-opacity="0.11"/><rect x="444.3" y="59.3" width="6.3" height="5.2" fill="#000" fill-opacity="0.15"/><rect x="420.9" y="124.6" width="3.4" height="12.2" fill="#000" fill-opacity="0.06"/><rect x="402.7" y="119.3" width="4.8" height="4.6" fill="#fff" fill-opacity="0.09"/><rect x="347.5" y="140.4" width="9.7" height="12.9" fill="#fff" fill-opacity="0.05"/><rect x="451.2" y="70.0" width="8.9" height="13.6" fill="#000" fill-opacity="0.09"/><rect x="389.1" y="95.7" width="3.6" height="10.4" fill="#000" fill-opacity="0.16"/><rect x="385.8" y="120.2" width="7.8" height="4.6" fill="#fff" fill-opacity="0.03"/><rect x="356.7" y="81.4" width="4.9" height="9.9" fill="#fff" fill-opacity="0.07"/><rect x="328.3" y="155.9" width="6.8" height="8.2" fill="#fff" fill-opacity="0.05"/><rect x="427.1" y="115.0" width="6.8" height="6.5" fill="#000" fill-opacity="0.08"/><rect x="381.7" y="135.1" width="6.8" height="9.8" fill="#000" fill-opacity="0.08"/><rect x="377.5" y="81.6" width="5.1" height="7.2" fill="#fff" fill-opacity="0.04"/><rect x="337.8" y="107.4" width="5.0" height="7.7" fill="#000" fill-opacity="0.10"/><rect x="357.8" y="169.0" width="4.2" height="5.0" fill="#000" fill-opacity="0.06"/><rect x="394.8" y="59.5" width="4.7" height="13.7" fill="#fff" fill-opacity="0.04"/><rect x="375.9" y="151.5" width="5.0" height="4.9" fill="#000" fill-opacity="0.07"/><rect x="422.0" y="120.2" width="9.8" height="7.4" fill="#fff" fill-opacity="0.07"/><rect x="427.3" y="119.8" width="6.4" height="13.4" fill="#fff" fill-opacity="0.08"/><rect x="367.5" y="39.8" width="5.7" height="6.1" fill="#fff" fill-opacity="0.04"/><rect x="447.0" y="76.2" width="7.7" height="12.9" fill="#fff" fill-opacity="0.09"/><rect x="372.8" y="146.5" width="9.1" height="9.8" fill="#000" fill-opacity="0.21"/><rect x="351.1" y="79.3" width="3.2" height="12.8" fill="#000" fill-opacity="0.17"/><rect x="341.9" y="53.4" width="6.4" height="12.8" fill="#fff" fill-opacity="0.05"/><rect x="427.1" y="105.4" width="8.2" height="6.8" fill="#fff" fill-opacity="0.05"/><rect x="346.0" y="146.0" width="6.9" height="10.6" fill="#000" fill-opacity="0.18"/><rect x="358.9" y="109.5" width="8.3" height="11.9" fill="#000" fill-opacity="0.18"/><rect x="412.0" y="68.8" width="7.4" height="5.9" fill="#000" fill-opacity="0.08"/><rect x="447.0" y="74.3" width="3.3" height="12.2" fill="#000" fill-opacity="0.08"/><rect x="398.5" y="72.8" width="3.4" height="4.6" fill="#fff" fill-opacity="0.08"/><rect x="406.4" y="64.3" width="8.6" height="4.6" fill="#000" fill-opacity="0.08"/><rect x="435.0" y="61.4" width="3.1" height="8.8" fill="#fff" fill-opacity="0.06"/><rect x="396.0" y="146.1" width="9.4" height="7.4" fill="#000" fill-opacity="0.07"/><rect x="443.4" y="79.7" width="8.0" height="12.8" fill="#fff" fill-opacity="0.04"/><rect x="343.8" y="109.8" width="5.7" height="4.7" fill="#000" fill-opacity="0.16"/><rect x="417.1" y="95.0" width="8.7" height="13.2" fill="#fff" fill-opacity="0.03"/><rect x="443.3" y="114.8" width="9.0" height="7.7" fill="#000" fill-opacity="0.09"/><rect x="409.5" y="70.5" width="3.1" height="8.0" fill="#000" fill-opacity="0.20"/><rect x="348.6" y="184.6" width="8.7" height="5.6" fill="#000" fill-opacity="0.21"/><rect x="366.2" y="116.5" width="7.6" height="10.1" fill="#fff" fill-opacity="0.09"/><rect x="392.1" y="37.9" width="5.1" height="4.8" fill="#fff" fill-opacity="0.03"/><rect x="388.5" y="70.1" width="8.8" height="11.7" fill="#fff" fill-opacity="0.08"/><rect x="396.8" y="72.4" width="9.4" height="4.1" fill="#fff" fill-opacity="0.07"/><rect x="447.0" y="84.1" width="8.0" height="5.9" fill="#000" fill-opacity="0.22"/><rect x="330.4" y="157.3" width="5.3" height="4.3" fill="#fff" fill-opacity="0.08"/><rect x="380.3" y="116.2" width="3.9" height="5.7" fill="#fff" fill-opacity="0.06"/><rect x="437.9" y="98.7" width="5.3" height="13.1" fill="#000" fill-opacity="0.18"/><rect x="435.7" y="108.8" width="4.8" height="5.1" fill="#000" fill-opacity="0.18"/><rect x="383.7" y="109.7" width="9.8" height="4.9" fill="#fff" fill-opacity="0.06"/><rect x="402.6" y="128.6" width="4.1" height="9.1" fill="#fff" fill-opacity="0.05"/><rect x="331.7" y="79.0" width="7.4" height="8.0" fill="#fff" fill-opacity="0.06"/><rect x="413.4" y="75.6" width="4.9" height="8.4" fill="#000" fill-opacity="0.06"/><rect x="447.6" y="58.7" width="8.8" height="4.3" fill="#fff" fill-opacity="0.04"/><rect x="423.0" y="96.3" width="5.6" height="7.5" fill="#fff" fill-opacity="0.06"/><rect x="366.5" y="43.2" width="6.3" height="13.9" fill="#000" fill-opacity="0.17"/><rect x="455.4" y="98.5" width="5.5" height="11.9" fill="#fff" fill-opacity="0.08"/><rect x="388.6" y="155.4" width="3.4" height="10.7" fill="#000" fill-opacity="0.06"/><rect x="414.0" y="69.3" width="8.2" height="13.8" fill="#fff" fill-opacity="0.05"/><rect x="406.0" y="67.0" width="8.1" height="11.2" fill="#000" fill-opacity="0.08"/><rect x="346.3" y="89.5" width="3.4" height="10.1" fill="#fff" fill-opacity="0.04"/><rect x="349.5" y="178.5" width="3.9" height="7.9" fill="#000" fill-opacity="0.14"/><rect x="329.6" y="171.0" width="6.6" height="6.9" fill="#fff" fill-opacity="0.04"/><rect x="406.4" y="98.6" width="6.6" height="10.5" fill="#000" fill-opacity="0.17"/><rect x="350.6" y="136.0" width="7.8" height="13.1" fill="#fff" fill-opacity="0.06"/><rect x="427.4" y="80.4" width="5.3" height="10.2" fill="#fff" fill-opacity="0.09"/><rect x="359.3" y="60.9" width="7.3" height="10.0" fill="#000" fill-opacity="0.21"/><rect x="371.3" y="100.6" width="7.6" height="9.0" fill="#000" fill-opacity="0.12"/><rect x="446.8" y="69.0" width="9.6" height="6.0" fill="#fff" fill-opacity="0.06"/><rect x="328.3" y="69.3" width="7.2" height="5.5" fill="#fff" fill-opacity="0.05"/><rect x="387.5" y="104.8" width="4.1" height="7.5" fill="#fff" fill-opacity="0.05"/><rect x="394.2" y="119.5" width="6.3" height="8.4" fill="#000" fill-opacity="0.13"/><rect x="350.8" y="131.5" width="8.7" height="10.5" fill="#000" fill-opacity="0.21"/><rect x="376.0" y="134.8" width="3.9" height="4.3" fill="#fff" fill-opacity="0.06"/><rect x="343.4" y="159.4" width="4.1" height="10.6" fill="#000" fill-opacity="0.17"/><rect x="443.4" y="31.4" width="6.6" height="7.0" fill="#fff" fill-opacity="0.08"/><rect x="423.8" y="60.8" width="4.2" height="4.7" fill="#000" fill-opacity="0.19"/><rect x="326.8" y="193.4" width="3.5" height="9.8" fill="#000" fill-opacity="0.08"/><rect x="414.3" y="82.0" width="7.5" height="8.7" fill="#fff" fill-opacity="0.09"/><rect x="411.8" y="31.0" width="3.0" height="13.9" fill="#000" fill-opacity="0.19"/><rect x="439.5" y="84.8" width="7.9" height="10.5" fill="#fff" fill-opacity="0.06"/><rect x="432.1" y="35.0" width="5.9" height="9.1" fill="#000" fill-opacity="0.20"/><rect x="383.1" y="120.0" width="6.6" height="10.7" fill="#000" fill-opacity="0.12"/><rect x="350.1" y="171.0" width="5.5" height="11.1" fill="#fff" fill-opacity="0.10"/><rect x="362.4" y="175.6" width="8.1" height="6.6" fill="#fff" fill-opacity="0.08"/><rect x="377.3" y="53.4" width="3.8" height="11.2" fill="#000" fill-opacity="0.19"/><rect x="340.2" y="64.7" width="6.9" height="5.6" fill="#000" fill-opacity="0.08"/><rect x="347.3" y="154.4" width="4.8" height="7.0" fill="#000" fill-opacity="0.15"/><rect x="367.9" y="99.8" width="5.0" height="12.7" fill="#fff" fill-opacity="0.09"/><rect x="352.5" y="86.2" width="4.3" height="5.9" fill="#fff" fill-opacity="0.08"/><rect x="342.9" y="179.2" width="3.2" height="5.5" fill="#000" fill-opacity="0.14"/><rect x="389.7" y="129.7" width="5.4" height="10.6" fill="#fff" fill-opacity="0.07"/><rect x="419.0" y="75.1" width="8.3" height="12.2" fill="#000" fill-opacity="0.06"/><rect x="373.8" y="51.8" width="4.2" height="8.7" fill="#000" fill-opacity="0.07"/><rect x="336.9" y="148.1" width="7.0" height="6.7" fill="#000" fill-opacity="0.11"/><rect x="366.7" y="48.4" width="8.7" height="5.6" fill="#fff" fill-opacity="0.09"/><rect x="342.0" y="67.2" width="5.7" height="11.2" fill="#fff" fill-opacity="0.04"/><rect x="312.9" y="67.0" width="8.2" height="10.4" fill="#000" fill-opacity="0.21"/><rect x="405.2" y="86.7" width="9.8" height="6.2" fill="#000" fill-opacity="0.18"/><rect x="374.1" y="80.3" width="6.1" height="11.4" fill="#000" fill-opacity="0.16"/><rect x="429.1" y="45.4" width="8.8" height="9.3" fill="#fff" fill-opacity="0.03"/><rect x="402.7" y="61.1" width="5.5" height="9.5" fill="#fff" fill-opacity="0.04"/><rect x="314.1" y="84.7" width="8.8" height="6.4" fill="#fff" fill-opacity="0.03"/><rect x="335.2" y="166.6" width="3.1" height="5.2" fill="#fff" fill-opacity="0.08"/><rect x="338.4" y="73.3" width="3.7" height="12.1" fill="#fff" fill-opacity="0.09"/><rect x="416.7" y="120.0" width="6.2" height="9.6" fill="#000" fill-opacity="0.22"/><rect x="337.1" y="53.3" width="10.0" height="10.9" fill="#000" fill-opacity="0.13"/><rect x="433.9" y="70.2" width="7.2" height="8.9" fill="#fff" fill-opacity="0.02"/><rect x="341.5" y="110.1" width="7.0" height="11.6" fill="#fff" fill-opacity="0.05"/><rect x="379.6" y="131.7" width="8.5" height="12.8" fill="#000" fill-opacity="0.07"/></g>
<use href="#shape" fill="none" stroke="#3a2224" stroke-width="3.8" stroke-opacity="0.85"/>
<polygon points="422,36 432,28 452,30 456,46 450,62 448,76 440,84 430,80 424,64" fill="#f6c88f"/>
<polygon points="426,31.7 434.3,29.5 444.7,30.2 452.3,36.1 449.2,43.6 446.1,51 449.2,60 444.7,70.5 438.7,66 434.3,55.6 432,46.6 429,40.7" fill="#23943f"/>
<rect x="433.5" y="34" width="14" height="7.4" fill="#2b5fa0"/>
<rect x="436" y="36" width="7" height="4" fill="#2a8f9a"/>
<rect x="441.7" y="60.2" width="3" height="3" fill="#167a3a"/>
<rect x="442.3" y="66.2" width="3" height="5" fill="#1f8f5a"/>
<rect x="447.1" y="46.5" width="4" height="3" fill="#1f8f5a"/>
<rect x="428.3" y="40.2" width="2" height="5" fill="#2f7f4f"/>
<rect x="431.5" y="62.3" width="4" height="5" fill="#2fa08f"/>
<rect x="430.8" y="32.1" width="2" height="3" fill="#167a3a"/>
<rect x="449.1" y="38.3" width="3" height="4" fill="#2fa08f"/>
<rect x="449.2" y="52.5" width="2" height="3" fill="#5fc88a"/>
<rect x="449.3" y="66.0" width="2" height="4" fill="#2f7f4f"/>
<rect x="437.1" y="67.6" width="2" height="4" fill="#2f7f4f"/>
<rect x="434.6" y="54.9" width="4" height="4" fill="#167a3a"/>
<rect x="429.5" y="45.5" width="3" height="4" fill="#2f7f4f"/>
<rect x="432.1" y="50.0" width="2" height="4" fill="#2fa08f"/>
<rect x="449.5" y="32.9" width="3" height="2" fill="#49b87a"/>
<rect x="440.1" y="47.9" width="4" height="2" fill="#3a2c22"/>
<rect x="438.0" y="58.9" width="2" height="3" fill="#5fc88a"/>
<rect x="448.5" y="67.8" width="4" height="4" fill="#49b87a"/>
<rect x="447.6" y="41.5" width="2" height="4" fill="#f6c88f"/>
<rect x="446.9" y="33.4" width="2" height="4" fill="#1f8f5a"/>
<rect x="439.3" y="45.8" width="3" height="4" fill="#2fa08f"/>
<rect x="448.3" y="52.7" width="4" height="4" fill="#2f7f4f"/>
<rect x="434.7" y="62.4" width="4" height="4" fill="#2fa08f"/>
<polygon points="451,53 456,51 466,54 468,60 472,67 472,69 458,66 450,59" fill="#40263a"/>
<rect x="406.1" y="66.6" width="3" height="3.5" fill="#f6bcd6"/>
<rect x="406.5" y="67.2" width="2.5" height="3" fill="#f6bcd6"/>
<rect x="407.6" y="65.4" width="4" height="3" fill="#f6bcd6"/>
<rect x="366.9" y="67.5" width="4" height="2" fill="#f6bcd6"/>
<rect x="369.5" y="69.8" width="4" height="3" fill="#f6bcd6"/>
<rect x="353.6" y="83.7" width="2" height="2" fill="#f6bcd6"/>
<rect x="351.9" y="84.7" width="2.5" height="2" fill="#f6bcd6"/>
<rect x="354.2" y="80.7" width="3" height="2.5" fill="#f6bcd6"/>
<rect x="359.6" y="73.5" width="3" height="3.5" fill="#f6bcd6"/>
<rect x="360.5" y="75.5" width="2" height="3" fill="#f6bcd6"/>
<rect x="363.4" y="76.3" width="2" height="2" fill="#f6bcd6"/>
<rect x="382.3" y="89.5" width="2" height="2" fill="#f6bcd6"/>
<rect x="384.0" y="86.4" width="2.5" height="3.5" fill="#f6bcd6"/>
<rect x="384.0" y="87.1" width="3" height="3.5" fill="#f6bcd6"/>
<rect x="415.2" y="71.8" width="4" height="3.5" fill="#f6bcd6"/>
<rect x="417.6" y="74.3" width="2.5" height="2" fill="#f6bcd6"/>
<rect x="418.4" y="75.4" width="3" height="2.5" fill="#f6bcd6"/>
<rect x="419.0" y="82.2" width="2" height="3" fill="#f6bcd6"/>
<rect x="416.4" y="81.9" width="4" height="3" fill="#f6bcd6"/>
<rect x="416.5" y="82.7" width="4" height="3.5" fill="#f6bcd6"/>
<rect x="414.3" y="82.0" width="3" height="2.5" fill="#f6bcd6"/>
<rect x="405.4" y="98.7" width="3" height="3" fill="#f6bcd6"/>
<rect x="405.1" y="94.8" width="3" height="3.5" fill="#f6bcd6"/>
<rect x="399.9" y="101.7" width="3" height="2" fill="#f6bcd6"/>
<rect x="399.9" y="102.9" width="2" height="2.5" fill="#f6bcd6"/>
<rect x="397.7" y="104.0" width="2" height="2" fill="#f6bcd6"/>
<rect x="396.0" y="100.9" width="2" height="2" fill="#f6bcd6"/>
<rect x="367.7" y="106.3" width="3" height="2" fill="#f6bcd6"/>
<rect x="369.9" y="102.1" width="2" height="2" fill="#f6bcd6"/>
<rect x="422.4" y="115.4" width="2.5" height="2.5" fill="#f6bcd6"/>
<rect x="424.0" y="112.7" width="2" height="3.5" fill="#f6bcd6"/>
<rect x="425.1" y="116.6" width="2" height="2" fill="#f6bcd6"/>
<rect x="433.8" y="125.2" width="3" height="2.5" fill="#f6bcd6"/>
<rect x="432.5" y="122.1" width="4" height="3.5" fill="#f6bcd6"/>
<rect x="433.7" y="123.5" width="2" height="2.5" fill="#f6bcd6"/>
<rect x="433.9" y="122.9" width="2.5" height="3.5" fill="#f6bcd6"/>
<rect x="423.7" y="129.1" width="4" height="3.5" fill="#f6bcd6"/>
<rect x="425.9" y="131.2" width="2" height="2" fill="#f6bcd6"/>
<rect x="423.8" y="127.7" width="2.5" height="3" fill="#f6bcd6"/>
<rect x="376.7" y="119.5" width="2" height="3.5" fill="#f6bcd6"/>
<rect x="377.5" y="118.5" width="3" height="3" fill="#f6bcd6"/>
<rect x="376.4" y="116.6" width="2.5" height="3.5" fill="#f6bcd6"/>
<rect x="341.6" y="118.1" width="2.5" height="3.5" fill="#f6bcd6"/>
<rect x="341.7" y="122.1" width="2" height="2.5" fill="#f6bcd6"/>
<rect x="335.3" y="126.3" width="4" height="2" fill="#f6bcd6"/>
<rect x="338.0" y="124.1" width="2.5" height="3.5" fill="#f6bcd6"/>
<rect x="337.8" y="125.2" width="3" height="3.5" fill="#f6bcd6"/>
<rect x="355.4" y="135.9" width="4" height="3.5" fill="#f6bcd6"/>
<rect x="355.4" y="137.0" width="2" height="3" fill="#f6bcd6"/>
<rect x="357.0" y="136.3" width="2.5" height="2" fill="#f6bcd6"/>
<rect x="414.6" y="137.2" width="4" height="2.5" fill="#f6bcd6"/>
<rect x="419.4" y="136.1" width="2.5" height="2" fill="#f6bcd6"/>
<rect x="413.6" y="50.9" width="2.5" height="2" fill="#f6bcd6"/>
<rect x="413.0" y="50.1" width="2" height="3.5" fill="#f6bcd6"/>
<rect x="409.5" y="51.0" width="4" height="3.5" fill="#f6bcd6"/>
<rect x="396.9" y="40.7" width="4" height="3" fill="#f6bcd6"/>
<rect x="398.2" y="43.5" width="2.5" height="3.5" fill="#f6bcd6"/>
<rect x="395.3" y="40.7" width="4" height="3" fill="#f6bcd6"/>
<rect x="417.3" y="59.3" width="2.5" height="3" fill="#f6bcd6"/>
<rect x="414.4" y="59.0" width="2.5" height="3" fill="#f6bcd6"/>
<rect x="444.4" y="74.5" width="3" height="2" fill="#f6bcd6"/>
<rect x="440.6" y="71.5" width="2.5" height="3" fill="#f6bcd6"/>
<rect x="442.9" y="74.3" width="3" height="3" fill="#f6bcd6"/>
<rect x="441.7" y="71.0" width="2" height="2.5" fill="#f6bcd6"/>
<rect x="445.1" y="75.3" width="2" height="3.5" fill="#f6bcd6"/>
<rect x="448.0" y="73.4" width="2" height="3.5" fill="#f6bcd6"/>
<rect x="449.4" y="75.3" width="3" height="3" fill="#f6bcd6"/>
<rect x="465.4" y="103.0" width="4" height="2" fill="#f6bcd6"/>
<rect x="462.2" y="104.4" width="2" height="3" fill="#f6bcd6"/>
<rect x="462.9" y="100.9" width="2.5" height="3.5" fill="#f6bcd6"/>
<rect x="347.5" y="147.9" width="2.5" height="3.5" fill="#f6bcd6"/>
<rect x="347.8" y="149.4" width="3" height="3" fill="#f6bcd6"/>
<rect x="345.2" y="150.8" width="2" height="3" fill="#f6bcd6"/>
<rect x="349.6" y="157.3" width="3" height="2.5" fill="#f6bcd6"/>
<rect x="351.5" y="161.1" width="2.5" height="3.5" fill="#f6bcd6"/>
<rect x="347.5" y="161.8" width="3" height="2.5" fill="#f6bcd6"/>
<rect x="339.5" y="173.6" width="4" height="2" fill="#f6bcd6"/>
<rect x="337.1" y="175.5" width="2.5" height="2.5" fill="#f6bcd6"/>
<rect x="338.8" y="175.5" width="3" height="3.5" fill="#f6bcd6"/>
<rect x="341.3" y="174.1" width="3" height="2.5" fill="#f6bcd6"/>
<rect x="357.5" y="149.1" width="2" height="2.5" fill="#f6bcd6"/>
<rect x="360.4" y="151.8" width="4" height="2" fill="#f6bcd6"/>
<rect x="393.4" y="78.0" width="4" height="3.5" fill="#f6bcd6"/>
<rect x="390.9" y="77.2" width="2" height="3.5" fill="#f6bcd6"/>
<rect x="395.7" y="79.4" width="2.5" height="2.5" fill="#f6bcd6"/>
<rect x="393.2" y="76.1" width="3" height="3" fill="#f6bcd6"/>
<rect x="376.1" y="96.6" width="2.5" height="2.5" fill="#f6bcd6"/>
<rect x="376.2" y="94.4" width="3" height="2.5" fill="#f6bcd6"/>
<rect x="379.1" y="94.1" width="2" height="2.5" fill="#f6bcd6"/>
<rect x="389.9" y="110.8" width="4" height="2" fill="#f6bcd6"/>
<rect x="390.8" y="108.3" width="4" height="3" fill="#f6bcd6"/>
<rect x="390.5" y="106.5" width="2.5" height="3" fill="#f6bcd6"/>
<rect x="409.8" y="106.9" width="2.5" height="2" fill="#f6bcd6"/>
<rect x="411.1" y="109.0" width="4" height="2.5" fill="#f6bcd6"/>
<rect x="410.8" y="109.5" width="2" height="2" fill="#f6bcd6"/>
<rect x="365.3" y="149.0" width="2.4" height="3" fill="#f6bcd6"/>
<rect x="379.2" y="154.3" width="3.6" height="2.4" fill="#f6bcd6"/>
<rect x="381.2" y="77.7" width="4.5" height="1.6" fill="#f6bcd6"/>
<rect x="383.9" y="76.8" width="3.6" height="1.3" fill="#f6bcd6"/>
<rect x="416.3" y="124.9" width="4.5" height="4" fill="#f6bcd6"/>
<rect x="407.1" y="51.2" width="2.4" height="4" fill="#f6bcd6"/>
<rect x="420.0" y="66.2" width="2.4" height="2" fill="#f6bcd6"/>
<rect x="380.4" y="106.2" width="2.4" height="4" fill="#f6bcd6"/>
<rect x="381.9" y="103.8" width="1.9" height="3.2" fill="#f6bcd6"/>
<rect x="367.5" y="152.8" width="2.4" height="4" fill="#f6bcd6"/>
<rect x="371.9" y="66.0" width="2.4" height="1.6" fill="#f6bcd6"/>
<rect x="373.4" y="65.0" width="1.9" height="1.3" fill="#f6bcd6"/>
<rect x="404.4" y="123.4" width="4.5" height="3" fill="#f6bcd6"/>
<rect x="407.1" y="121.6" width="3.6" height="2.4" fill="#f6bcd6"/>
<rect x="405.3" y="63.6" width="3" height="2.4" fill="#f6bcd6"/>
<rect x="407.1" y="62.1" width="2.4" height="1.9" fill="#f6bcd6"/>
<rect x="398.5" y="79.0" width="2.4" height="1.6" fill="#f6bcd6"/>
<rect x="340.6" y="132.5" width="3" height="2.4" fill="#f6bcd6"/>
<rect x="376.4" y="143.8" width="3" height="1.6" fill="#f6bcd6"/>
</g></g>
<rect x="307.2" y="251.6" width="37.8" height="29.6" fill="#fff" />
<rect x="307.2" y="251.6" width="37.8" height="2.9" fill="#fbe6d8" />
<rect x="307.2" y="278.5" width="37.8" height="2.7" fill="#fbe6d8" />
<text x="328.2" y="276" text-anchor="middle" font-size="22" font-weight="bold" fill="#000">(d)</text>
<rect x="485.6" y="15.5" width="10.8" height="208.1" fill="url(#g1)" stroke="#777" stroke-width="0.5"/>
<text x="521.5" y="20.4" text-anchor="end" font-size="15">10</text>
<text x="521.5" y="48.2" text-anchor="end" font-size="15">5</text>
<text x="521.5" y="73.1" text-anchor="end" font-size="15">0</text>
<text x="521.5" y="101.2" text-anchor="end" font-size="15">-5</text>
<text x="519.6" y="123.6" text-anchor="end" font-size="15">-10</text>
<text x="519.6" y="148.7" text-anchor="end" font-size="15">-15</text>
<text x="519.6" y="175.8" text-anchor="end" font-size="15">-20</text>
<text x="519.6" y="201.0" text-anchor="end" font-size="15">-25</text>
<text x="522.7" y="230.3" text-anchor="end" font-size="15">-30</text>
<rect x="479.8" y="240.2" width="6.2" height="182.8" fill="#fffde0" />
<rect x="486.2" y="241" width="10" height="198.1" fill="url(#g2)" stroke="#6f7f5f" stroke-opacity="0.6" stroke-width="0.5"/>
<text x="536.5" y="247.5" text-anchor="end" font-size="15">0.010</text>
<text x="536.8" y="285.0" text-anchor="end" font-size="15">0.008</text>
<text x="537" y="323.3" text-anchor="end" font-size="15">0.006</text>
<text x="536.5" y="366.0" text-anchor="end" font-size="15">0.004</text>
<text x="535" y="404.4" text-anchor="end" font-size="15">0.002</text>
<text x="537.6" y="440.3" text-anchor="end" font-size="15">0.000</text>
<text transform="translate(38.5,122.2) rotate(-90)" text-anchor="middle" font-size="23" xml:space="preserve">Γ(dB)</text>
<text transform="translate(64.8,121.4) rotate(-90)" text-anchor="middle" font-size="16.8" xml:space="preserve"><tspan font-weight="bold">w/o</tspan> kurtosis thresholding</text>
<text transform="translate(268,120) rotate(-90)" text-anchor="middle" font-size="25" xml:space="preserve">Γ(dB)</text>
<text transform="translate(295.3,117.75) rotate(-90)" text-anchor="middle" font-size="16.8" xml:space="preserve"><tspan font-weight="bold">w/</tspan>  kurtosis thresholding</text>
<text transform="translate(32.5,331.8) rotate(-90)" text-anchor="middle" font-size="22.4" xml:space="preserve">DDM-3D skewness</text>
<text transform="translate(60,325.1) rotate(-90)" text-anchor="middle" font-size="16.6" xml:space="preserve">(absolute value)</text>
<text transform="translate(291.9,337.8) rotate(-90)" text-anchor="middle" font-size="22.9" xml:space="preserve">DDM-3D kurtosis</text>
<line x1="73.4" y1="204.3" x2="73.4" y2="205.8" stroke="#999" stroke-width="0.5"/>
<line x1="105.1" y1="204.3" x2="105.1" y2="205.8" stroke="#999" stroke-width="0.5"/>
<line x1="136.8" y1="204.3" x2="136.8" y2="205.8" stroke="#999" stroke-width="0.5"/>
<line x1="168.5" y1="204.3" x2="168.5" y2="205.8" stroke="#999" stroke-width="0.5"/>
<line x1="200.2" y1="204.3" x2="200.2" y2="205.8" stroke="#999" stroke-width="0.5"/>
<line x1="231.9" y1="204.3" x2="231.9" y2="205.8" stroke="#999" stroke-width="0.5"/>
<line x1="70.9" y1="59.1" x2="72.4" y2="59.1" stroke="#999" stroke-width="0.5"/>
<line x1="70.9" y1="90.8" x2="72.4" y2="90.8" stroke="#999" stroke-width="0.5"/>
<line x1="70.9" y1="122.5" x2="72.4" y2="122.5" stroke="#999" stroke-width="0.5"/>
<line x1="70.9" y1="154.2" x2="72.4" y2="154.2" stroke="#999" stroke-width="0.5"/>
<line x1="70.9" y1="185.9" x2="72.4" y2="185.9" stroke="#999" stroke-width="0.5"/>
<line x1="305.6" y1="202.4" x2="305.6" y2="203.9" stroke="#999" stroke-width="0.5"/>
<line x1="337.3" y1="202.4" x2="337.3" y2="203.9" stroke="#999" stroke-width="0.5"/>
<line x1="369.0" y1="202.4" x2="369.0" y2="203.9" stroke="#999" stroke-width="0.5"/>
<line x1="400.7" y1="202.4" x2="400.7" y2="203.9" stroke="#999" stroke-width="0.5"/>
<line x1="432.4" y1="202.4" x2="432.4" y2="203.9" stroke="#999" stroke-width="0.5"/>
<line x1="464.1" y1="202.4" x2="464.1" y2="203.9" stroke="#999" stroke-width="0.5"/>
<line x1="303.1" y1="57.4" x2="304.6" y2="57.4" stroke="#999" stroke-width="0.5"/>
<line x1="303.1" y1="89.1" x2="304.6" y2="89.1" stroke="#999" stroke-width="0.5"/>
<line x1="303.1" y1="120.8" x2="304.6" y2="120.8" stroke="#999" stroke-width="0.5"/>
<line x1="303.1" y1="152.5" x2="304.6" y2="152.5" stroke="#999" stroke-width="0.5"/>
<line x1="303.1" y1="184.2" x2="304.6" y2="184.2" stroke="#999" stroke-width="0.5"/>
<line x1="73.4" y1="423.8" x2="73.4" y2="425.3" stroke="#999" stroke-width="0.5"/>
<line x1="105.1" y1="423.8" x2="105.1" y2="425.3" stroke="#999" stroke-width="0.5"/>
<line x1="136.8" y1="423.8" x2="136.8" y2="425.3" stroke="#999" stroke-width="0.5"/>
<line x1="168.5" y1="423.8" x2="168.5" y2="425.3" stroke="#999" stroke-width="0.5"/>
<line x1="200.2" y1="423.8" x2="200.2" y2="425.3" stroke="#999" stroke-width="0.5"/>
<line x1="231.9" y1="423.8" x2="231.9" y2="425.3" stroke="#999" stroke-width="0.5"/>
<line x1="70.9" y1="280.7" x2="72.4" y2="280.7" stroke="#999" stroke-width="0.5"/>
<line x1="70.9" y1="312.4" x2="72.4" y2="312.4" stroke="#999" stroke-width="0.5"/>
<line x1="70.9" y1="344.1" x2="72.4" y2="344.1" stroke="#999" stroke-width="0.5"/>
<line x1="70.9" y1="375.8" x2="72.4" y2="375.8" stroke="#999" stroke-width="0.5"/>
<line x1="70.9" y1="407.5" x2="72.4" y2="407.5" stroke="#999" stroke-width="0.5"/>
<text x="73.0" y="427.8" text-anchor="middle" font-size="2.8" fill="#b4b4b4" font-family="'Liberation Sans', sans-serif">0</text>
<text x="104.7" y="427.8" text-anchor="middle" font-size="2.8" fill="#b4b4b4" font-family="'Liberation Sans', sans-serif">1000</text>
<text x="136.4" y="427.8" text-anchor="middle" font-size="2.8" fill="#b4b4b4" font-family="'Liberation Sans', sans-serif">2000</text>
<text x="168.1" y="427.8" text-anchor="middle" font-size="2.8" fill="#b4b4b4" font-family="'Liberation Sans', sans-serif">3000</text>
<text x="199.8" y="427.8" text-anchor="middle" font-size="2.8" fill="#b4b4b4" font-family="'Liberation Sans', sans-serif">4000</text>
<text x="231.5" y="427.8" text-anchor="middle" font-size="2.8" fill="#b4b4b4" font-family="'Liberation Sans', sans-serif">5000</text>
<text x="73.8" y="208.2" text-anchor="middle" font-size="2.8" fill="#b4b4b4" font-family="'Liberation Sans', sans-serif">0</text>
<text x="105.5" y="208.2" text-anchor="middle" font-size="2.8" fill="#b4b4b4" font-family="'Liberation Sans', sans-serif">1000</text>
<text x="137.2" y="208.2" text-anchor="middle" font-size="2.8" fill="#b4b4b4" font-family="'Liberation Sans', sans-serif">2000</text>
<text x="168.9" y="208.2" text-anchor="middle" font-size="2.8" fill="#b4b4b4" font-family="'Liberation Sans', sans-serif">3000</text>
<text x="200.6" y="208.2" text-anchor="middle" font-size="2.8" fill="#b4b4b4" font-family="'Liberation Sans', sans-serif">4000</text>
<text x="232.3" y="208.2" text-anchor="middle" font-size="2.8" fill="#b4b4b4" font-family="'Liberation Sans', sans-serif">5000</text>
</svg></body></html>
